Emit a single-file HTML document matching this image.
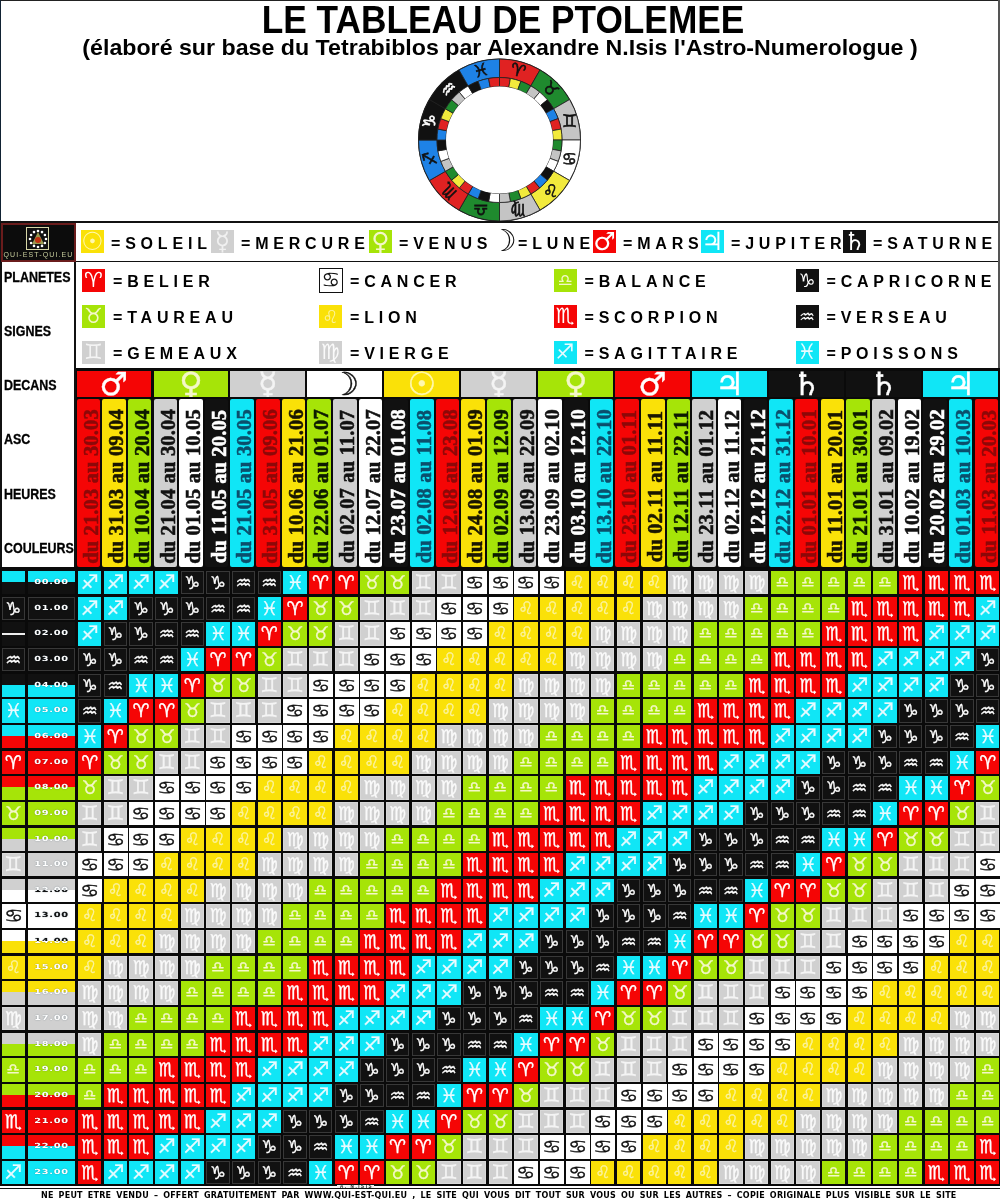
<!DOCTYPE html><html lang="fr"><head><meta charset="utf-8"><title>Le Tableau de Ptolemee</title><style>
html,body{margin:0;padding:0}
body{width:1000px;height:1200px;position:relative;overflow:hidden;background:#fff;font-family:"Liberation Sans",sans-serif;color:#000}
.a{position:absolute}
.t{position:absolute;white-space:nowrap;font-weight:bold}
.z{font-family:"DejaVu Sans",sans-serif;font-weight:normal}
#g{position:absolute;left:0;top:567px;width:1000px;height:619.4px;background:#0a0a0a}
#g i{position:absolute;width:23.4px;height:23.4px;font:normal 19px/23.4px "DejaVu Sans",sans-serif;text-align:center;font-style:normal;overflow:hidden;-webkit-text-stroke:.3px}
#g .ax{background:#f50505;color:#fff}
#g .tx{background:#a6e408;color:#f4f7c8}
#g .gx{background:#d0d0d0;color:#f4f4f4}
#g .nx{background:#ffffff;color:#111}
#g .lx{background:#fae108;color:#fbf3a0}
#g .vx{background:#d0d0d0;color:#fafafa}
#g .bx{background:#a6e408;color:#f4f7c8}
#g .ox{background:#f50505;color:#fff}
#g .sx{background:#10e6f6;color:#e8fbff}
#g .cx{background:#111111;color:#fff}
#g .qx{background:#111111;color:#fff}
#g .px{background:#10e6f6;color:#e8fbff}

.lg{font-size:16px;line-height:18px;letter-spacing:4.8px}
.dt{left:3px;top:0;-webkit-text-stroke:.55px;font-family:"Liberation Serif",serif;font-size:20.5px;letter-spacing:.15px;line-height:23.5px;width:168px;height:23.5px;text-align:center;transform-origin:0 0;transform:rotate(-90deg) translate(-171.5px,0)}
#g .hr{-webkit-text-stroke:0;text-shadow:0 0 1px rgba(0,40,60,.55);font:bold 7px/23px "DejaVu Sans",sans-serif;letter-spacing:.5px;text-align:center}
#g .hr b{display:block;position:relative;font-weight:inherit;transform:scaleX(1.4)}
#g .cx,#g .qx{box-shadow:inset 0 0 0 1px #383838}
#g .gx{font-size:20px;box-shadow:inset 0 0 0 1px #d8d8d8}
#g .vx{box-shadow:inset 0 0 0 1px #d8d8d8}
#g .nx{font-size:18px;width:19.5px;transform-origin:0 0;transform:scaleX(1.2)}
#g .bx{font-size:15px;line-height:22px}
#g .lx{font-size:17px}
#g .sx{font-size:20px}
#g .cx,#g .qx{font-size:18px}
#g .px{font-size:19px}
</style></head><body><div class="a" style="left:0;top:0;width:1000px;height:1px;background:#222"></div><div class="a" style="left:0;top:0;width:1px;height:222px;background:#123"></div><div class="t" id="title" style="left:3px;width:1000px;text-align:center;top:-2px;font-size:38px;line-height:44px;transform:scaleX(.928)">LE TABLEAU DE PTOLEMEE</div><div class="t" id="sub" style="left:0;width:1000px;text-align:center;top:35.8px;font-size:22.3px;line-height:24px;transform:scaleX(1.04)">(élaboré sur base du Tetrabiblos par Alexandre N.Isis l'Astro-Numerologue )</div><svg class="a" style="left:415px;top:56px" width="170" height="170" viewBox="415 56 170 170"><circle cx="499.5" cy="140" r="81.5" fill="#111"/><path d="M499.5 59.0A81 81 0 0 1 540.0 69.9L530.8 85.9A62.5 62.5 0 0 0 499.5 77.5Z" fill="#e02222" stroke="#222" stroke-width="0.8"/><path d="M540.0 69.9A81 81 0 0 1 569.6 99.5L553.6 108.8A62.5 62.5 0 0 0 530.8 85.9Z" fill="#1f8a2e" stroke="#222" stroke-width="0.8"/><path d="M569.6 99.5A81 81 0 0 1 580.5 140.0L562.0 140.0A62.5 62.5 0 0 0 553.6 108.8Z" fill="#c4c4c4" stroke="#222" stroke-width="0.8"/><path d="M580.5 140.0A81 81 0 0 1 569.6 180.5L553.6 171.2A62.5 62.5 0 0 0 562.0 140.0Z" fill="#ffffff" stroke="#222" stroke-width="0.8"/><path d="M569.6 180.5A81 81 0 0 1 540.0 210.1L530.8 194.1A62.5 62.5 0 0 0 553.6 171.2Z" fill="#f2ea3c" stroke="#222" stroke-width="0.8"/><path d="M540.0 210.1A81 81 0 0 1 499.5 221.0L499.5 202.5A62.5 62.5 0 0 0 530.8 194.1Z" fill="#c4c4c4" stroke="#222" stroke-width="0.8"/><path d="M499.5 221.0A81 81 0 0 1 459.0 210.1L468.2 194.1A62.5 62.5 0 0 0 499.5 202.5Z" fill="#1f8a2e" stroke="#222" stroke-width="0.8"/><path d="M459.0 210.1A81 81 0 0 1 429.4 180.5L445.4 171.3A62.5 62.5 0 0 0 468.2 194.1Z" fill="#e02222" stroke="#222" stroke-width="0.8"/><path d="M429.4 180.5A81 81 0 0 1 418.5 140.0L437.0 140.0A62.5 62.5 0 0 0 445.4 171.3Z" fill="#1e82e6" stroke="#222" stroke-width="0.8"/><path d="M418.5 140.0A81 81 0 0 1 429.4 99.5L445.4 108.8A62.5 62.5 0 0 0 437.0 140.0Z" fill="#111" stroke="#222" stroke-width="0.8"/><path d="M429.4 99.5A81 81 0 0 1 459.0 69.9L468.2 85.9A62.5 62.5 0 0 0 445.4 108.8Z" fill="#111" stroke="#222" stroke-width="0.8"/><path d="M459.0 69.9A81 81 0 0 1 499.5 59.0L499.5 77.5A62.5 62.5 0 0 0 468.2 85.9Z" fill="#1e82e6" stroke="#222" stroke-width="0.8"/><path d="M499.5 77.5A62.5 62.5 0 0 1 510.4 78.4L508.8 87.3A53.5 53.5 0 0 0 499.5 86.5Z" fill="#e02222" stroke="#222" stroke-width="0.8"/><path d="M510.4 78.4A62.5 62.5 0 0 1 520.9 81.3L517.8 89.7A53.5 53.5 0 0 0 508.8 87.3Z" fill="#f2ea3c" stroke="#222" stroke-width="0.8"/><path d="M520.9 81.3A62.5 62.5 0 0 1 530.8 85.9L526.2 93.7A53.5 53.5 0 0 0 517.8 89.7Z" fill="#1f8a2e" stroke="#222" stroke-width="0.8"/><path d="M530.8 85.9A62.5 62.5 0 0 1 539.7 92.1L533.9 99.0A53.5 53.5 0 0 0 526.2 93.7Z" fill="#c4c4c4" stroke="#222" stroke-width="0.8"/><path d="M539.7 92.1A62.5 62.5 0 0 1 547.4 99.8L540.5 105.6A53.5 53.5 0 0 0 533.9 99.0Z" fill="#ffffff" stroke="#222" stroke-width="0.8"/><path d="M547.4 99.8A62.5 62.5 0 0 1 553.6 108.8L545.8 113.2A53.5 53.5 0 0 0 540.5 105.6Z" fill="#111" stroke="#222" stroke-width="0.8"/><path d="M553.6 108.8A62.5 62.5 0 0 1 558.2 118.6L549.8 121.7A53.5 53.5 0 0 0 545.8 113.2Z" fill="#1e82e6" stroke="#222" stroke-width="0.8"/><path d="M558.2 118.6A62.5 62.5 0 0 1 561.1 129.1L552.2 130.7A53.5 53.5 0 0 0 549.8 121.7Z" fill="#e02222" stroke="#222" stroke-width="0.8"/><path d="M561.1 129.1A62.5 62.5 0 0 1 562.0 140.0L553.0 140.0A53.5 53.5 0 0 0 552.2 130.7Z" fill="#f2ea3c" stroke="#222" stroke-width="0.8"/><path d="M562.0 140.0A62.5 62.5 0 0 1 561.1 150.9L552.2 149.3A53.5 53.5 0 0 0 553.0 140.0Z" fill="#1f8a2e" stroke="#222" stroke-width="0.8"/><path d="M561.1 150.9A62.5 62.5 0 0 1 558.2 161.4L549.8 158.3A53.5 53.5 0 0 0 552.2 149.3Z" fill="#c4c4c4" stroke="#222" stroke-width="0.8"/><path d="M558.2 161.4A62.5 62.5 0 0 1 553.6 171.2L545.8 166.8A53.5 53.5 0 0 0 549.8 158.3Z" fill="#ffffff" stroke="#222" stroke-width="0.8"/><path d="M553.6 171.2A62.5 62.5 0 0 1 547.4 180.2L540.5 174.4A53.5 53.5 0 0 0 545.8 166.8Z" fill="#111" stroke="#222" stroke-width="0.8"/><path d="M547.4 180.2A62.5 62.5 0 0 1 539.7 187.9L533.9 181.0A53.5 53.5 0 0 0 540.5 174.4Z" fill="#1e82e6" stroke="#222" stroke-width="0.8"/><path d="M539.7 187.9A62.5 62.5 0 0 1 530.8 194.1L526.2 186.3A53.5 53.5 0 0 0 533.9 181.0Z" fill="#e02222" stroke="#222" stroke-width="0.8"/><path d="M530.8 194.1A62.5 62.5 0 0 1 520.9 198.7L517.8 190.3A53.5 53.5 0 0 0 526.2 186.3Z" fill="#f2ea3c" stroke="#222" stroke-width="0.8"/><path d="M520.9 198.7A62.5 62.5 0 0 1 510.4 201.6L508.8 192.7A53.5 53.5 0 0 0 517.8 190.3Z" fill="#1f8a2e" stroke="#222" stroke-width="0.8"/><path d="M510.4 201.6A62.5 62.5 0 0 1 499.5 202.5L499.5 193.5A53.5 53.5 0 0 0 508.8 192.7Z" fill="#c4c4c4" stroke="#222" stroke-width="0.8"/><path d="M499.5 202.5A62.5 62.5 0 0 1 488.6 201.6L490.2 192.7A53.5 53.5 0 0 0 499.5 193.5Z" fill="#ffffff" stroke="#222" stroke-width="0.8"/><path d="M488.6 201.6A62.5 62.5 0 0 1 478.1 198.7L481.2 190.3A53.5 53.5 0 0 0 490.2 192.7Z" fill="#111" stroke="#222" stroke-width="0.8"/><path d="M478.1 198.7A62.5 62.5 0 0 1 468.2 194.1L472.8 186.3A53.5 53.5 0 0 0 481.2 190.3Z" fill="#1e82e6" stroke="#222" stroke-width="0.8"/><path d="M468.2 194.1A62.5 62.5 0 0 1 459.3 187.9L465.1 181.0A53.5 53.5 0 0 0 472.8 186.3Z" fill="#e02222" stroke="#222" stroke-width="0.8"/><path d="M459.3 187.9A62.5 62.5 0 0 1 451.6 180.2L458.5 174.4A53.5 53.5 0 0 0 465.1 181.0Z" fill="#f2ea3c" stroke="#222" stroke-width="0.8"/><path d="M451.6 180.2A62.5 62.5 0 0 1 445.4 171.3L453.2 166.8A53.5 53.5 0 0 0 458.5 174.4Z" fill="#1f8a2e" stroke="#222" stroke-width="0.8"/><path d="M445.4 171.3A62.5 62.5 0 0 1 440.8 161.4L449.2 158.3A53.5 53.5 0 0 0 453.2 166.8Z" fill="#c4c4c4" stroke="#222" stroke-width="0.8"/><path d="M440.8 161.4A62.5 62.5 0 0 1 437.9 150.9L446.8 149.3A53.5 53.5 0 0 0 449.2 158.3Z" fill="#ffffff" stroke="#222" stroke-width="0.8"/><path d="M437.9 150.9A62.5 62.5 0 0 1 437.0 140.0L446.0 140.0A53.5 53.5 0 0 0 446.8 149.3Z" fill="#111" stroke="#222" stroke-width="0.8"/><path d="M437.0 140.0A62.5 62.5 0 0 1 437.9 129.1L446.8 130.7A53.5 53.5 0 0 0 446.0 140.0Z" fill="#1e82e6" stroke="#222" stroke-width="0.8"/><path d="M437.9 129.1A62.5 62.5 0 0 1 440.8 118.6L449.2 121.7A53.5 53.5 0 0 0 446.8 130.7Z" fill="#e02222" stroke="#222" stroke-width="0.8"/><path d="M440.8 118.6A62.5 62.5 0 0 1 445.4 108.8L453.2 113.2A53.5 53.5 0 0 0 449.2 121.7Z" fill="#f2ea3c" stroke="#222" stroke-width="0.8"/><path d="M445.4 108.8A62.5 62.5 0 0 1 451.6 99.8L458.5 105.6A53.5 53.5 0 0 0 453.2 113.2Z" fill="#1f8a2e" stroke="#222" stroke-width="0.8"/><path d="M451.6 99.8A62.5 62.5 0 0 1 459.3 92.1L465.1 99.0A53.5 53.5 0 0 0 458.5 105.6Z" fill="#c4c4c4" stroke="#222" stroke-width="0.8"/><path d="M459.3 92.1A62.5 62.5 0 0 1 468.2 85.9L472.8 93.7A53.5 53.5 0 0 0 465.1 99.0Z" fill="#ffffff" stroke="#222" stroke-width="0.8"/><path d="M468.2 85.9A62.5 62.5 0 0 1 478.1 81.3L481.2 89.7A53.5 53.5 0 0 0 472.8 93.7Z" fill="#111" stroke="#222" stroke-width="0.8"/><path d="M478.1 81.3A62.5 62.5 0 0 1 488.6 78.4L490.2 87.3A53.5 53.5 0 0 0 481.2 89.7Z" fill="#1e82e6" stroke="#222" stroke-width="0.8"/><path d="M488.6 78.4A62.5 62.5 0 0 1 499.5 77.5L499.5 86.5A53.5 53.5 0 0 0 490.2 87.3Z" fill="#e02222" stroke="#222" stroke-width="0.8"/><circle cx="499.5" cy="140" r="53.5" fill="#fff"/><text x="518.2" y="70.2" font-family="DejaVu Sans" font-size="17" stroke-width=".6" text-anchor="middle" fill="#111" transform="rotate(15 518.2 70.2)" dy="6" stroke="#111">♈︎</text><text x="550.6" y="88.9" font-family="DejaVu Sans" font-size="17" stroke-width=".6" text-anchor="middle" fill="#111" transform="rotate(45 550.6 88.9)" dy="6" stroke="#111">♉︎</text><text x="569.3" y="121.3" font-family="DejaVu Sans" font-size="17" stroke-width=".6" text-anchor="middle" fill="#111" transform="rotate(0 569.3 121.3)" dy="6" stroke="#111">♊︎</text><text x="569.3" y="158.7" font-family="DejaVu Sans" font-size="17" stroke-width=".6" text-anchor="middle" fill="#111" transform="rotate(0 569.3 158.7)" dy="6" stroke="#111">♋︎</text><text x="550.6" y="191.1" font-family="DejaVu Sans" font-size="17" stroke-width=".6" text-anchor="middle" fill="#111" transform="rotate(0 550.6 191.1)" dy="6" stroke="#111">♌︎</text><text x="518.2" y="209.8" font-family="DejaVu Sans" font-size="17" stroke-width=".6" text-anchor="middle" fill="#111" transform="rotate(180 518.2 209.8)" dy="6" stroke="#111">♍︎</text><text x="480.8" y="209.8" font-family="DejaVu Sans" font-size="17" stroke-width=".6" text-anchor="middle" fill="#111" transform="rotate(180 480.8 209.8)" dy="6" stroke="#111">♎︎</text><text x="448.4" y="191.1" font-family="DejaVu Sans" font-size="17" stroke-width=".6" text-anchor="middle" fill="#111" transform="rotate(225 448.4 191.1)" dy="6" stroke="#111">♏︎</text><text x="429.7" y="158.7" font-family="DejaVu Sans" font-size="17" stroke-width=".6" text-anchor="middle" fill="#111" transform="rotate(255 429.7 158.7)" dy="6" stroke="#111">♐︎</text><text x="429.7" y="121.3" font-family="DejaVu Sans" font-size="17" stroke-width=".6" text-anchor="middle" fill="#fff" transform="rotate(285 429.7 121.3)" dy="6" stroke="#fff">♑︎</text><text x="448.4" y="88.9" font-family="DejaVu Sans" font-size="17" stroke-width=".6" text-anchor="middle" fill="#fff" transform="rotate(315 448.4 88.9)" dy="6" stroke="#fff">♒︎</text><text x="480.8" y="70.2" font-family="DejaVu Sans" font-size="17" stroke-width=".6" text-anchor="middle" fill="#111" transform="rotate(345 480.8 70.2)" dy="6" stroke="#111">♓︎</text></svg><div class="a" style="left:0;top:221.4px;width:1000px;height:1.4px;background:#111"></div><div class="a" style="left:74px;top:222px;width:2px;height:346px;background:#111"></div><div class="a" style="left:76px;top:261px;width:924px;height:1.4px;background:#111"></div><div class="a" style="left:0;top:222px;width:2px;height:978px;background:#111"></div><div class="a" style="left:998.4px;top:0;width:1.6px;height:369px;background:#555"></div><div class="a" style="left:1px;top:223px;width:71px;height:35px;background:#0c0c0c;border:2px solid #6a1c1c"></div><div class="a" style="left:26px;top:227px;width:21px;height:21px;border:1.5px solid #d8d8a8;background:#111"></div><svg class="a" style="left:26px;top:227px" width="24" height="24" viewBox="0 0 24 24"><g fill="#fff"><circle cx="12.0" cy="4.0" r="1.3"/><circle cx="16.0" cy="5.1" r="1.3"/><circle cx="18.9" cy="8.0" r="1.3"/><circle cx="20.0" cy="12.0" r="1.3"/><circle cx="18.9" cy="16.0" r="1.3"/><circle cx="16.0" cy="18.9" r="1.3"/><circle cx="12.0" cy="20.0" r="1.3"/><circle cx="8.0" cy="18.9" r="1.3"/><circle cx="5.1" cy="16.0" r="1.3"/><circle cx="4.0" cy="12.0" r="1.3"/><circle cx="5.1" cy="8.0" r="1.3"/><circle cx="8.0" cy="5.1" r="1.3"/></g><path d="M12 5L18 17H6Z" fill="#9a9a50"/><circle cx="12" cy="13" r="3" fill="#c03010"/></svg><div class="t" style="left:3px;top:251px;width:71px;text-align:center;font-size:7px;line-height:8px;letter-spacing:1.1px;color:#c6cc9c;font-weight:normal">QUI-EST-QUI.EU</div><div class="t lab" style="left:3.5px;top:269px;font-size:14px;line-height:16px;transform-origin:0 50%;transform:scaleX(.89);-webkit-text-stroke:.3px #000">PLANETES</div><div class="t lab" style="left:3.5px;top:323px;font-size:14px;line-height:16px;transform-origin:0 50%;transform:scaleX(.89);-webkit-text-stroke:.3px #000">SIGNES</div><div class="t lab" style="left:3.5px;top:377px;font-size:14px;line-height:16px;transform-origin:0 50%;transform:scaleX(.89);-webkit-text-stroke:.3px #000">DECANS</div><div class="t lab" style="left:3.5px;top:431px;font-size:14px;line-height:16px;transform-origin:0 50%;transform:scaleX(.89);-webkit-text-stroke:.3px #000">ASC</div><div class="t lab" style="left:3.5px;top:486px;font-size:14px;line-height:16px;transform-origin:0 50%;transform:scaleX(.89);-webkit-text-stroke:.3px #000">HEURES</div><div class="t lab" style="left:3.5px;top:540px;font-size:14px;line-height:16px;transform-origin:0 50%;transform:scaleX(.89);-webkit-text-stroke:.3px #000">COULEURS</div><div class="a z" style="left:81px;top:230px;width:23px;height:23px;background:#fae108;color:#fff8b0;font-size:25px;line-height:23px;text-align:center;font-weight:bold;overflow:hidden">☉</div><div class="t lg pl" style="left:111px;top:234.5px">=SOLEIL</div><div class="a z" style="left:211px;top:230px;width:23px;height:23px;background:#d0d0d0;color:#f0f0f0;font-size:25px;line-height:23px;text-align:center;font-weight:bold;overflow:hidden">☿</div><div class="t lg pl" style="left:241px;top:234.5px">=MERCURE</div><div class="a z" style="left:369px;top:230px;width:23px;height:23px;background:#a6e408;color:#f4f7c8;font-size:25px;line-height:23px;text-align:center;font-weight:bold;overflow:hidden">♀</div><div class="t lg pl" style="left:399px;top:234.5px">=VENUS</div><div class="a z" style="left:490px;top:230px;width:23px;height:23px;background:#ffffff;color:#111;font-size:30px;line-height:21px;text-align:center;font-weight:bold;overflow:visible">☽</div><div class="t lg pl" style="left:518px;top:234.5px">=LUNE</div><div class="a z" style="left:593px;top:230px;width:23px;height:23px;background:#f50505;color:#fff;font-size:25px;line-height:23px;text-align:center;font-weight:bold;overflow:hidden">♂</div><div class="t lg pl" style="left:623px;top:234.5px">=MARS</div><div class="a z" style="left:701px;top:230px;width:23px;height:23px;background:#10e6f6;color:#fff;font-size:25px;line-height:23px;text-align:center;font-weight:bold;overflow:hidden">♃</div><div class="t lg pl" style="left:731px;top:234.5px">=JUPITER</div><div class="a z" style="left:843px;top:230px;width:23px;height:23px;background:#111111;color:#fff;font-size:25px;line-height:23px;text-align:center;font-weight:bold;overflow:hidden">♄</div><div class="t lg pl" style="left:873px;top:234.5px">=SATURNE</div><div class="a z" style="left:82px;top:269px;width:23px;height:23px;background:#f50505;color:#fff;font-size:21px;line-height:23px;text-align:center;overflow:hidden">♈︎</div><div class="t lg" style="left:113px;top:273px">=BELIER</div><div class="a z" style="left:82px;top:305px;width:23px;height:23px;background:#a6e408;color:#f4f7c8;font-size:21px;line-height:23px;text-align:center;overflow:hidden">♉︎</div><div class="t lg" style="left:113px;top:309px">=TAUREAU</div><div class="a z" style="left:82px;top:341px;width:23px;height:23px;background:#d0d0d0;color:#f4f4f4;font-size:21px;line-height:23px;text-align:center;overflow:hidden">♊︎</div><div class="t lg" style="left:113px;top:345px">=GEMEAUX</div><div class="a z" style="left:319px;top:269px;width:23px;height:23px;box-sizing:border-box;border:1.5px solid #111;margin:-1px 0 0 -.5px;width:24.5px;height:24.5px;background:#ffffff;color:#111;font-size:21px;line-height:22px;text-align:center;overflow:hidden">♋︎</div><div class="t lg" style="left:350px;top:273px">=CANCER</div><div class="a z" style="left:319px;top:305px;width:23px;height:23px;background:#fae108;color:#fbf3a0;font-size:18px;line-height:23px;text-align:center;overflow:hidden">♌︎</div><div class="t lg" style="left:350px;top:309px">=LION</div><div class="a z" style="left:319px;top:341px;width:23px;height:23px;background:#d0d0d0;color:#fafafa;font-size:21px;line-height:23px;text-align:center;overflow:hidden">♍︎</div><div class="t lg" style="left:350px;top:345px">=VIERGE</div><div class="a z" style="left:553.5px;top:269px;width:23px;height:23px;background:#a6e408;color:#f4f7c8;font-size:17px;line-height:23px;text-align:center;overflow:hidden">♎︎</div><div class="t lg" style="left:584.5px;top:273px">=BALANCE</div><div class="a z" style="left:553.5px;top:305px;width:23px;height:23px;background:#f50505;color:#fff;font-size:21px;line-height:23px;text-align:center;overflow:hidden">♏︎</div><div class="t lg" style="left:584.5px;top:309px">=SCORPION</div><div class="a z" style="left:553.5px;top:341px;width:23px;height:23px;background:#10e6f6;color:#e8fbff;font-size:21px;line-height:23px;text-align:center;overflow:hidden">♐︎</div><div class="t lg" style="left:584.5px;top:345px">=SAGITTAIRE</div><div class="a z" style="left:795.5px;top:269px;width:23px;height:23px;background:#111111;color:#fff;font-size:19px;line-height:23px;text-align:center;overflow:hidden">♑︎</div><div class="t lg" style="left:826.5px;top:273px">=CAPRICORNE</div><div class="a z" style="left:795.5px;top:305px;width:23px;height:23px;background:#111111;color:#fff;font-size:18px;line-height:23px;text-align:center;overflow:hidden">♒︎</div><div class="t lg" style="left:826.5px;top:309px">=VERSEAU</div><div class="a z" style="left:795.5px;top:341px;width:23px;height:23px;background:#10e6f6;color:#e8fbff;font-size:21px;line-height:23px;text-align:center;overflow:hidden">♓︎</div><div class="t lg" style="left:826.5px;top:345px">=POISSONS</div><div class="a" style="left:76px;top:368px;width:924px;height:200px;background:#0a0a0a"></div><div class="a z" style="left:76.5px;top:371px;width:74.8px;height:26px;background:#f50505;color:#fff;font-size:32px;line-height:27px;text-align:center;font-weight:bold;overflow:hidden;-webkit-text-stroke:.4px">♂</div><div class="a z" style="left:153.5px;top:371px;width:74.8px;height:26px;background:#a6e408;color:#f4f7c8;font-size:32px;line-height:27px;text-align:center;font-weight:bold;overflow:hidden;-webkit-text-stroke:.4px">♀</div><div class="a z" style="left:230.4px;top:371px;width:74.8px;height:26px;background:#d0d0d0;color:#f4f4f4;font-size:32px;line-height:27px;text-align:center;font-weight:bold;overflow:hidden;-webkit-text-stroke:.4px">☿</div><div class="a z" style="left:307.4px;top:371px;width:74.8px;height:26px;background:#ffffff;color:#111;font-size:32px;line-height:27px;text-align:center;font-weight:bold;overflow:hidden;-webkit-text-stroke:.4px">☽</div><div class="a z" style="left:384.4px;top:371px;width:74.8px;height:26px;background:#fae108;color:#fff8b0;font-size:32px;line-height:27px;text-align:center;font-weight:bold;overflow:hidden;-webkit-text-stroke:.4px">☉</div><div class="a z" style="left:461.4px;top:371px;width:74.8px;height:26px;background:#d0d0d0;color:#f4f4f4;font-size:32px;line-height:27px;text-align:center;font-weight:bold;overflow:hidden;-webkit-text-stroke:.4px">☿</div><div class="a z" style="left:538.3px;top:371px;width:74.8px;height:26px;background:#a6e408;color:#f4f7c8;font-size:32px;line-height:27px;text-align:center;font-weight:bold;overflow:hidden;-webkit-text-stroke:.4px">♀</div><div class="a z" style="left:615.3px;top:371px;width:74.8px;height:26px;background:#f50505;color:#fff;font-size:32px;line-height:27px;text-align:center;font-weight:bold;overflow:hidden;-webkit-text-stroke:.4px">♂</div><div class="a z" style="left:692.3px;top:371px;width:74.8px;height:26px;background:#10e6f6;color:#fff;font-size:32px;line-height:27px;text-align:center;font-weight:bold;overflow:hidden;-webkit-text-stroke:.4px">♃</div><div class="a z" style="left:769.2px;top:371px;width:74.8px;height:26px;background:#111111;color:#fff;font-size:32px;line-height:27px;text-align:center;font-weight:bold;overflow:hidden;-webkit-text-stroke:.4px">♄</div><div class="a z" style="left:846.2px;top:371px;width:74.8px;height:26px;background:#111111;color:#fff;font-size:32px;line-height:27px;text-align:center;font-weight:bold;overflow:hidden;-webkit-text-stroke:.4px">♄</div><div class="a z" style="left:923.2px;top:371px;width:74.8px;height:26px;background:#10e6f6;color:#fff;font-size:32px;line-height:27px;text-align:center;font-weight:bold;overflow:hidden;-webkit-text-stroke:.4px">♃</div><div class="a" style="left:76.5px;top:399px;width:23.5px;height:168px;background:#f50505;border-radius:2px"><div class="t dt" style="color:#8c0808">du 21.03 au 30.03</div></div><div class="a" style="left:102.2px;top:399px;width:23.5px;height:168px;background:#fae108;border-radius:2px"><div class="t dt" style="color:#1a1600">du 31.03 au 09.04</div></div><div class="a" style="left:127.8px;top:399px;width:23.5px;height:168px;background:#a6e408;border-radius:2px"><div class="t dt" style="color:#0c1a00">du 10.04 au 20.04</div></div><div class="a" style="left:153.5px;top:399px;width:23.5px;height:168px;background:#d0d0d0;border-radius:2px"><div class="t dt" style="color:#111">du 21.04 au 30.04</div></div><div class="a" style="left:179.1px;top:399px;width:23.5px;height:168px;background:#ffffff;border-radius:2px"><div class="t dt" style="color:#111">du 01.05 au 10.05</div></div><div class="a" style="left:204.8px;top:399px;width:23.5px;height:168px;background:#111111;border-radius:2px"><div class="t dt" style="color:#fff">du 11.05 au 20.05</div></div><div class="a" style="left:230.4px;top:399px;width:23.5px;height:168px;background:#10e6f6;border-radius:2px"><div class="t dt" style="color:#0b4f6c">du 21.05 au 30.05</div></div><div class="a" style="left:256.1px;top:399px;width:23.5px;height:168px;background:#f50505;border-radius:2px"><div class="t dt" style="color:#8c0808">du 31.05 au 09.06</div></div><div class="a" style="left:281.8px;top:399px;width:23.5px;height:168px;background:#fae108;border-radius:2px"><div class="t dt" style="color:#1a1600">du 10.06 au 21.06</div></div><div class="a" style="left:307.4px;top:399px;width:23.5px;height:168px;background:#a6e408;border-radius:2px"><div class="t dt" style="color:#0c1a00">du 22.06 au 01.07</div></div><div class="a" style="left:333.1px;top:399px;width:23.5px;height:168px;background:#d0d0d0;border-radius:2px"><div class="t dt" style="color:#111">du 02.07 au 11.07</div></div><div class="a" style="left:358.7px;top:399px;width:23.5px;height:168px;background:#ffffff;border-radius:2px"><div class="t dt" style="color:#111">du 12.07 au 22.07</div></div><div class="a" style="left:384.4px;top:399px;width:23.5px;height:168px;background:#111111;border-radius:2px"><div class="t dt" style="color:#fff">du 23.07 au 01.08</div></div><div class="a" style="left:410.0px;top:399px;width:23.5px;height:168px;background:#10e6f6;border-radius:2px"><div class="t dt" style="color:#0b4f6c">du 02.08 au 11.08</div></div><div class="a" style="left:435.7px;top:399px;width:23.5px;height:168px;background:#f50505;border-radius:2px"><div class="t dt" style="color:#8c0808">du 12.08 au 23.08</div></div><div class="a" style="left:461.4px;top:399px;width:23.5px;height:168px;background:#fae108;border-radius:2px"><div class="t dt" style="color:#1a1600">du 24.08 au 01.09</div></div><div class="a" style="left:487.0px;top:399px;width:23.5px;height:168px;background:#a6e408;border-radius:2px"><div class="t dt" style="color:#0c1a00">du 02.09 au 12.09</div></div><div class="a" style="left:512.7px;top:399px;width:23.5px;height:168px;background:#d0d0d0;border-radius:2px"><div class="t dt" style="color:#111">du 13.09 au 22.09</div></div><div class="a" style="left:538.3px;top:399px;width:23.5px;height:168px;background:#ffffff;border-radius:2px"><div class="t dt" style="color:#111">du 23.09 au 02.10</div></div><div class="a" style="left:564.0px;top:399px;width:23.5px;height:168px;background:#111111;border-radius:2px"><div class="t dt" style="color:#fff">du 03.10 au 12.10</div></div><div class="a" style="left:589.6px;top:399px;width:23.5px;height:168px;background:#10e6f6;border-radius:2px"><div class="t dt" style="color:#0b4f6c">du 13.10 au 22.10</div></div><div class="a" style="left:615.3px;top:399px;width:23.5px;height:168px;background:#f50505;border-radius:2px"><div class="t dt" style="color:#8c0808">du 23.10 au 01.11</div></div><div class="a" style="left:641.0px;top:399px;width:23.5px;height:168px;background:#fae108;border-radius:2px"><div class="t dt" style="color:#1a1600">du 02.11 au 11.11</div></div><div class="a" style="left:666.6px;top:399px;width:23.5px;height:168px;background:#a6e408;border-radius:2px"><div class="t dt" style="color:#0c1a00">du 12.11 au 22.11</div></div><div class="a" style="left:692.3px;top:399px;width:23.5px;height:168px;background:#d0d0d0;border-radius:2px"><div class="t dt" style="color:#111">du 23.11 au 01.12</div></div><div class="a" style="left:717.9px;top:399px;width:23.5px;height:168px;background:#ffffff;border-radius:2px"><div class="t dt" style="color:#111">du 02.12 au 11.12</div></div><div class="a" style="left:743.6px;top:399px;width:23.5px;height:168px;background:#111111;border-radius:2px"><div class="t dt" style="color:#fff">du 12.12 au 21.12</div></div><div class="a" style="left:769.2px;top:399px;width:23.5px;height:168px;background:#10e6f6;border-radius:2px"><div class="t dt" style="color:#0b4f6c">du 22.12 au 31.12</div></div><div class="a" style="left:794.9px;top:399px;width:23.5px;height:168px;background:#f50505;border-radius:2px"><div class="t dt" style="color:#8c0808">du 01.01 au 10.01</div></div><div class="a" style="left:820.6px;top:399px;width:23.5px;height:168px;background:#fae108;border-radius:2px"><div class="t dt" style="color:#1a1600">du 11.01 au 20.01</div></div><div class="a" style="left:846.2px;top:399px;width:23.5px;height:168px;background:#a6e408;border-radius:2px"><div class="t dt" style="color:#0c1a00">du 21.01 au 30.01</div></div><div class="a" style="left:871.9px;top:399px;width:23.5px;height:168px;background:#d0d0d0;border-radius:2px"><div class="t dt" style="color:#111">du 31.01 au 09.02</div></div><div class="a" style="left:897.5px;top:399px;width:23.5px;height:168px;background:#ffffff;border-radius:2px"><div class="t dt" style="color:#111">du 10.02 au 19.02</div></div><div class="a" style="left:923.2px;top:399px;width:23.5px;height:168px;background:#111111;border-radius:2px"><div class="t dt" style="color:#fff">du 20.02 au 29.02</div></div><div class="a" style="left:948.8px;top:399px;width:23.5px;height:168px;background:#10e6f6;border-radius:2px"><div class="t dt" style="color:#0b4f6c">du 01.03 au 10.03</div></div><div class="a" style="left:974.5px;top:399px;width:23.5px;height:168px;background:#f50505;border-radius:2px"><div class="t dt" style="color:#8c0808">du 11.03 au 20.03</div></div><div id="g"><i class="sx" style="left:78.0px;top:4.0px">♐︎</i><i class="sx" style="left:103.7px;top:4.0px">♐︎</i><i class="sx" style="left:129.3px;top:4.0px">♐︎</i><i class="sx" style="left:155.0px;top:4.0px">♐︎</i><i class="cx" style="left:180.6px;top:4.0px">♑︎</i><i class="cx" style="left:206.3px;top:4.0px">♑︎</i><i class="qx" style="left:231.9px;top:4.0px">♒︎</i><i class="qx" style="left:257.6px;top:4.0px">♒︎</i><i class="px" style="left:283.3px;top:4.0px">♓︎</i><i class="ax" style="left:308.9px;top:4.0px">♈︎</i><i class="ax" style="left:334.6px;top:4.0px">♈︎</i><i class="tx" style="left:360.2px;top:4.0px">♉︎</i><i class="tx" style="left:385.9px;top:4.0px">♉︎</i><i class="gx" style="left:411.5px;top:4.0px">♊︎</i><i class="gx" style="left:437.2px;top:4.0px">♊︎</i><i class="nx" style="left:462.9px;top:4.0px">♋︎</i><i class="nx" style="left:488.5px;top:4.0px">♋︎</i><i class="nx" style="left:514.2px;top:4.0px">♋︎</i><i class="nx" style="left:539.8px;top:4.0px">♋︎</i><i class="lx" style="left:565.5px;top:4.0px">♌︎</i><i class="lx" style="left:591.1px;top:4.0px">♌︎</i><i class="lx" style="left:616.8px;top:4.0px">♌︎</i><i class="lx" style="left:642.5px;top:4.0px">♌︎</i><i class="vx" style="left:668.1px;top:4.0px">♍︎</i><i class="vx" style="left:693.8px;top:4.0px">♍︎</i><i class="vx" style="left:719.4px;top:4.0px">♍︎</i><i class="vx" style="left:745.1px;top:4.0px">♍︎</i><i class="bx" style="left:770.7px;top:4.0px">♎︎</i><i class="bx" style="left:796.4px;top:4.0px">♎︎</i><i class="bx" style="left:822.1px;top:4.0px">♎︎</i><i class="bx" style="left:847.7px;top:4.0px">♎︎</i><i class="bx" style="left:873.4px;top:4.0px">♎︎</i><i class="ox" style="left:899.0px;top:4.0px">♏︎</i><i class="ox" style="left:924.7px;top:4.0px">♏︎</i><i class="ox" style="left:950.3px;top:4.0px">♏︎</i><i class="ox" style="left:976.0px;top:4.0px">♏︎</i><i class="sx" style="left:78.0px;top:29.6px">♐︎</i><i class="sx" style="left:103.7px;top:29.6px">♐︎</i><i class="cx" style="left:129.3px;top:29.6px">♑︎</i><i class="cx" style="left:155.0px;top:29.6px">♑︎</i><i class="cx" style="left:180.6px;top:29.6px">♑︎</i><i class="qx" style="left:206.3px;top:29.6px">♒︎</i><i class="qx" style="left:231.9px;top:29.6px">♒︎</i><i class="px" style="left:257.6px;top:29.6px">♓︎</i><i class="ax" style="left:283.3px;top:29.6px">♈︎</i><i class="tx" style="left:308.9px;top:29.6px">♉︎</i><i class="tx" style="left:334.6px;top:29.6px">♉︎</i><i class="gx" style="left:360.2px;top:29.6px">♊︎</i><i class="gx" style="left:385.9px;top:29.6px">♊︎</i><i class="gx" style="left:411.5px;top:29.6px">♊︎</i><i class="nx" style="left:437.2px;top:29.6px">♋︎</i><i class="nx" style="left:462.9px;top:29.6px">♋︎</i><i class="nx" style="left:488.5px;top:29.6px">♋︎</i><i class="lx" style="left:514.2px;top:29.6px">♌︎</i><i class="lx" style="left:539.8px;top:29.6px">♌︎</i><i class="lx" style="left:565.5px;top:29.6px">♌︎</i><i class="lx" style="left:591.1px;top:29.6px">♌︎</i><i class="lx" style="left:616.8px;top:29.6px">♌︎</i><i class="vx" style="left:642.5px;top:29.6px">♍︎</i><i class="vx" style="left:668.1px;top:29.6px">♍︎</i><i class="vx" style="left:693.8px;top:29.6px">♍︎</i><i class="vx" style="left:719.4px;top:29.6px">♍︎</i><i class="bx" style="left:745.1px;top:29.6px">♎︎</i><i class="bx" style="left:770.7px;top:29.6px">♎︎</i><i class="bx" style="left:796.4px;top:29.6px">♎︎</i><i class="bx" style="left:822.1px;top:29.6px">♎︎</i><i class="ox" style="left:847.7px;top:29.6px">♏︎</i><i class="ox" style="left:873.4px;top:29.6px">♏︎</i><i class="ox" style="left:899.0px;top:29.6px">♏︎</i><i class="ox" style="left:924.7px;top:29.6px">♏︎</i><i class="ox" style="left:950.3px;top:29.6px">♏︎</i><i class="sx" style="left:976.0px;top:29.6px">♐︎</i><i class="sx" style="left:78.0px;top:55.3px">♐︎</i><i class="cx" style="left:103.7px;top:55.3px">♑︎</i><i class="cx" style="left:129.3px;top:55.3px">♑︎</i><i class="qx" style="left:155.0px;top:55.3px">♒︎</i><i class="qx" style="left:180.6px;top:55.3px">♒︎</i><i class="px" style="left:206.3px;top:55.3px">♓︎</i><i class="px" style="left:231.9px;top:55.3px">♓︎</i><i class="ax" style="left:257.6px;top:55.3px">♈︎</i><i class="tx" style="left:283.3px;top:55.3px">♉︎</i><i class="tx" style="left:308.9px;top:55.3px">♉︎</i><i class="gx" style="left:334.6px;top:55.3px">♊︎</i><i class="gx" style="left:360.2px;top:55.3px">♊︎</i><i class="nx" style="left:385.9px;top:55.3px">♋︎</i><i class="nx" style="left:411.5px;top:55.3px">♋︎</i><i class="nx" style="left:437.2px;top:55.3px">♋︎</i><i class="nx" style="left:462.9px;top:55.3px">♋︎</i><i class="lx" style="left:488.5px;top:55.3px">♌︎</i><i class="lx" style="left:514.2px;top:55.3px">♌︎</i><i class="lx" style="left:539.8px;top:55.3px">♌︎</i><i class="lx" style="left:565.5px;top:55.3px">♌︎</i><i class="vx" style="left:591.1px;top:55.3px">♍︎</i><i class="vx" style="left:616.8px;top:55.3px">♍︎</i><i class="vx" style="left:642.5px;top:55.3px">♍︎</i><i class="vx" style="left:668.1px;top:55.3px">♍︎</i><i class="bx" style="left:693.8px;top:55.3px">♎︎</i><i class="bx" style="left:719.4px;top:55.3px">♎︎</i><i class="bx" style="left:745.1px;top:55.3px">♎︎</i><i class="bx" style="left:770.7px;top:55.3px">♎︎</i><i class="bx" style="left:796.4px;top:55.3px">♎︎</i><i class="ox" style="left:822.1px;top:55.3px">♏︎</i><i class="ox" style="left:847.7px;top:55.3px">♏︎</i><i class="ox" style="left:873.4px;top:55.3px">♏︎</i><i class="ox" style="left:899.0px;top:55.3px">♏︎</i><i class="sx" style="left:924.7px;top:55.3px">♐︎</i><i class="sx" style="left:950.3px;top:55.3px">♐︎</i><i class="sx" style="left:976.0px;top:55.3px">♐︎</i><i class="cx" style="left:78.0px;top:80.9px">♑︎</i><i class="cx" style="left:103.7px;top:80.9px">♑︎</i><i class="qx" style="left:129.3px;top:80.9px">♒︎</i><i class="qx" style="left:155.0px;top:80.9px">♒︎</i><i class="px" style="left:180.6px;top:80.9px">♓︎</i><i class="ax" style="left:206.3px;top:80.9px">♈︎</i><i class="ax" style="left:231.9px;top:80.9px">♈︎</i><i class="tx" style="left:257.6px;top:80.9px">♉︎</i><i class="gx" style="left:283.3px;top:80.9px">♊︎</i><i class="gx" style="left:308.9px;top:80.9px">♊︎</i><i class="gx" style="left:334.6px;top:80.9px">♊︎</i><i class="nx" style="left:360.2px;top:80.9px">♋︎</i><i class="nx" style="left:385.9px;top:80.9px">♋︎</i><i class="nx" style="left:411.5px;top:80.9px">♋︎</i><i class="lx" style="left:437.2px;top:80.9px">♌︎</i><i class="lx" style="left:462.9px;top:80.9px">♌︎</i><i class="lx" style="left:488.5px;top:80.9px">♌︎</i><i class="lx" style="left:514.2px;top:80.9px">♌︎</i><i class="lx" style="left:539.8px;top:80.9px">♌︎</i><i class="vx" style="left:565.5px;top:80.9px">♍︎</i><i class="vx" style="left:591.1px;top:80.9px">♍︎</i><i class="vx" style="left:616.8px;top:80.9px">♍︎</i><i class="vx" style="left:642.5px;top:80.9px">♍︎</i><i class="bx" style="left:668.1px;top:80.9px">♎︎</i><i class="bx" style="left:693.8px;top:80.9px">♎︎</i><i class="bx" style="left:719.4px;top:80.9px">♎︎</i><i class="bx" style="left:745.1px;top:80.9px">♎︎</i><i class="ox" style="left:770.7px;top:80.9px">♏︎</i><i class="ox" style="left:796.4px;top:80.9px">♏︎</i><i class="ox" style="left:822.1px;top:80.9px">♏︎</i><i class="ox" style="left:847.7px;top:80.9px">♏︎</i><i class="sx" style="left:873.4px;top:80.9px">♐︎</i><i class="sx" style="left:899.0px;top:80.9px">♐︎</i><i class="sx" style="left:924.7px;top:80.9px">♐︎</i><i class="sx" style="left:950.3px;top:80.9px">♐︎</i><i class="cx" style="left:976.0px;top:80.9px">♑︎</i><i class="cx" style="left:78.0px;top:106.6px">♑︎</i><i class="qx" style="left:103.7px;top:106.6px">♒︎</i><i class="px" style="left:129.3px;top:106.6px">♓︎</i><i class="px" style="left:155.0px;top:106.6px">♓︎</i><i class="ax" style="left:180.6px;top:106.6px">♈︎</i><i class="tx" style="left:206.3px;top:106.6px">♉︎</i><i class="tx" style="left:231.9px;top:106.6px">♉︎</i><i class="gx" style="left:257.6px;top:106.6px">♊︎</i><i class="gx" style="left:283.3px;top:106.6px">♊︎</i><i class="nx" style="left:308.9px;top:106.6px">♋︎</i><i class="nx" style="left:334.6px;top:106.6px">♋︎</i><i class="nx" style="left:360.2px;top:106.6px">♋︎</i><i class="nx" style="left:385.9px;top:106.6px">♋︎</i><i class="lx" style="left:411.5px;top:106.6px">♌︎</i><i class="lx" style="left:437.2px;top:106.6px">♌︎</i><i class="lx" style="left:462.9px;top:106.6px">♌︎</i><i class="lx" style="left:488.5px;top:106.6px">♌︎</i><i class="vx" style="left:514.2px;top:106.6px">♍︎</i><i class="vx" style="left:539.8px;top:106.6px">♍︎</i><i class="vx" style="left:565.5px;top:106.6px">♍︎</i><i class="vx" style="left:591.1px;top:106.6px">♍︎</i><i class="bx" style="left:616.8px;top:106.6px">♎︎</i><i class="bx" style="left:642.5px;top:106.6px">♎︎</i><i class="bx" style="left:668.1px;top:106.6px">♎︎</i><i class="bx" style="left:693.8px;top:106.6px">♎︎</i><i class="bx" style="left:719.4px;top:106.6px">♎︎</i><i class="ox" style="left:745.1px;top:106.6px">♏︎</i><i class="ox" style="left:770.7px;top:106.6px">♏︎</i><i class="ox" style="left:796.4px;top:106.6px">♏︎</i><i class="ox" style="left:822.1px;top:106.6px">♏︎</i><i class="sx" style="left:847.7px;top:106.6px">♐︎</i><i class="sx" style="left:873.4px;top:106.6px">♐︎</i><i class="sx" style="left:899.0px;top:106.6px">♐︎</i><i class="sx" style="left:924.7px;top:106.6px">♐︎</i><i class="cx" style="left:950.3px;top:106.6px">♑︎</i><i class="cx" style="left:976.0px;top:106.6px">♑︎</i><i class="qx" style="left:78.0px;top:132.2px">♒︎</i><i class="px" style="left:103.7px;top:132.2px">♓︎</i><i class="ax" style="left:129.3px;top:132.2px">♈︎</i><i class="ax" style="left:155.0px;top:132.2px">♈︎</i><i class="tx" style="left:180.6px;top:132.2px">♉︎</i><i class="gx" style="left:206.3px;top:132.2px">♊︎</i><i class="gx" style="left:231.9px;top:132.2px">♊︎</i><i class="gx" style="left:257.6px;top:132.2px">♊︎</i><i class="nx" style="left:283.3px;top:132.2px">♋︎</i><i class="nx" style="left:308.9px;top:132.2px">♋︎</i><i class="nx" style="left:334.6px;top:132.2px">♋︎</i><i class="nx" style="left:360.2px;top:132.2px">♋︎</i><i class="lx" style="left:385.9px;top:132.2px">♌︎</i><i class="lx" style="left:411.5px;top:132.2px">♌︎</i><i class="lx" style="left:437.2px;top:132.2px">♌︎</i><i class="lx" style="left:462.9px;top:132.2px">♌︎</i><i class="vx" style="left:488.5px;top:132.2px">♍︎</i><i class="vx" style="left:514.2px;top:132.2px">♍︎</i><i class="vx" style="left:539.8px;top:132.2px">♍︎</i><i class="vx" style="left:565.5px;top:132.2px">♍︎</i><i class="bx" style="left:591.1px;top:132.2px">♎︎</i><i class="bx" style="left:616.8px;top:132.2px">♎︎</i><i class="bx" style="left:642.5px;top:132.2px">♎︎</i><i class="bx" style="left:668.1px;top:132.2px">♎︎</i><i class="ox" style="left:693.8px;top:132.2px">♏︎</i><i class="ox" style="left:719.4px;top:132.2px">♏︎</i><i class="ox" style="left:745.1px;top:132.2px">♏︎</i><i class="ox" style="left:770.7px;top:132.2px">♏︎</i><i class="sx" style="left:796.4px;top:132.2px">♐︎</i><i class="sx" style="left:822.1px;top:132.2px">♐︎</i><i class="sx" style="left:847.7px;top:132.2px">♐︎</i><i class="sx" style="left:873.4px;top:132.2px">♐︎</i><i class="cx" style="left:899.0px;top:132.2px">♑︎</i><i class="cx" style="left:924.7px;top:132.2px">♑︎</i><i class="cx" style="left:950.3px;top:132.2px">♑︎</i><i class="qx" style="left:976.0px;top:132.2px">♒︎</i><i class="px" style="left:78.0px;top:157.9px">♓︎</i><i class="ax" style="left:103.7px;top:157.9px">♈︎</i><i class="tx" style="left:129.3px;top:157.9px">♉︎</i><i class="tx" style="left:155.0px;top:157.9px">♉︎</i><i class="gx" style="left:180.6px;top:157.9px">♊︎</i><i class="gx" style="left:206.3px;top:157.9px">♊︎</i><i class="nx" style="left:231.9px;top:157.9px">♋︎</i><i class="nx" style="left:257.6px;top:157.9px">♋︎</i><i class="nx" style="left:283.3px;top:157.9px">♋︎</i><i class="nx" style="left:308.9px;top:157.9px">♋︎</i><i class="lx" style="left:334.6px;top:157.9px">♌︎</i><i class="lx" style="left:360.2px;top:157.9px">♌︎</i><i class="lx" style="left:385.9px;top:157.9px">♌︎</i><i class="lx" style="left:411.5px;top:157.9px">♌︎</i><i class="vx" style="left:437.2px;top:157.9px">♍︎</i><i class="vx" style="left:462.9px;top:157.9px">♍︎</i><i class="vx" style="left:488.5px;top:157.9px">♍︎</i><i class="vx" style="left:514.2px;top:157.9px">♍︎</i><i class="bx" style="left:539.8px;top:157.9px">♎︎</i><i class="bx" style="left:565.5px;top:157.9px">♎︎</i><i class="bx" style="left:591.1px;top:157.9px">♎︎</i><i class="bx" style="left:616.8px;top:157.9px">♎︎</i><i class="ox" style="left:642.5px;top:157.9px">♏︎</i><i class="ox" style="left:668.1px;top:157.9px">♏︎</i><i class="ox" style="left:693.8px;top:157.9px">♏︎</i><i class="ox" style="left:719.4px;top:157.9px">♏︎</i><i class="ox" style="left:745.1px;top:157.9px">♏︎</i><i class="sx" style="left:770.7px;top:157.9px">♐︎</i><i class="sx" style="left:796.4px;top:157.9px">♐︎</i><i class="sx" style="left:822.1px;top:157.9px">♐︎</i><i class="sx" style="left:847.7px;top:157.9px">♐︎</i><i class="cx" style="left:873.4px;top:157.9px">♑︎</i><i class="cx" style="left:899.0px;top:157.9px">♑︎</i><i class="cx" style="left:924.7px;top:157.9px">♑︎</i><i class="qx" style="left:950.3px;top:157.9px">♒︎</i><i class="px" style="left:976.0px;top:157.9px">♓︎</i><i class="ax" style="left:78.0px;top:183.5px">♈︎</i><i class="tx" style="left:103.7px;top:183.5px">♉︎</i><i class="tx" style="left:129.3px;top:183.5px">♉︎</i><i class="gx" style="left:155.0px;top:183.5px">♊︎</i><i class="gx" style="left:180.6px;top:183.5px">♊︎</i><i class="nx" style="left:206.3px;top:183.5px">♋︎</i><i class="nx" style="left:231.9px;top:183.5px">♋︎</i><i class="nx" style="left:257.6px;top:183.5px">♋︎</i><i class="nx" style="left:283.3px;top:183.5px">♋︎</i><i class="lx" style="left:308.9px;top:183.5px">♌︎</i><i class="lx" style="left:334.6px;top:183.5px">♌︎</i><i class="lx" style="left:360.2px;top:183.5px">♌︎</i><i class="lx" style="left:385.9px;top:183.5px">♌︎</i><i class="vx" style="left:411.5px;top:183.5px">♍︎</i><i class="vx" style="left:437.2px;top:183.5px">♍︎</i><i class="vx" style="left:462.9px;top:183.5px">♍︎</i><i class="vx" style="left:488.5px;top:183.5px">♍︎</i><i class="bx" style="left:514.2px;top:183.5px">♎︎</i><i class="bx" style="left:539.8px;top:183.5px">♎︎</i><i class="bx" style="left:565.5px;top:183.5px">♎︎</i><i class="bx" style="left:591.1px;top:183.5px">♎︎</i><i class="ox" style="left:616.8px;top:183.5px">♏︎</i><i class="ox" style="left:642.5px;top:183.5px">♏︎</i><i class="ox" style="left:668.1px;top:183.5px">♏︎</i><i class="ox" style="left:693.8px;top:183.5px">♏︎</i><i class="sx" style="left:719.4px;top:183.5px">♐︎</i><i class="sx" style="left:745.1px;top:183.5px">♐︎</i><i class="sx" style="left:770.7px;top:183.5px">♐︎</i><i class="sx" style="left:796.4px;top:183.5px">♐︎</i><i class="cx" style="left:822.1px;top:183.5px">♑︎</i><i class="cx" style="left:847.7px;top:183.5px">♑︎</i><i class="cx" style="left:873.4px;top:183.5px">♑︎</i><i class="qx" style="left:899.0px;top:183.5px">♒︎</i><i class="qx" style="left:924.7px;top:183.5px">♒︎</i><i class="px" style="left:950.3px;top:183.5px">♓︎</i><i class="ax" style="left:976.0px;top:183.5px">♈︎</i><i class="tx" style="left:78.0px;top:209.2px">♉︎</i><i class="gx" style="left:103.7px;top:209.2px">♊︎</i><i class="gx" style="left:129.3px;top:209.2px">♊︎</i><i class="nx" style="left:155.0px;top:209.2px">♋︎</i><i class="nx" style="left:180.6px;top:209.2px">♋︎</i><i class="nx" style="left:206.3px;top:209.2px">♋︎</i><i class="nx" style="left:231.9px;top:209.2px">♋︎</i><i class="lx" style="left:257.6px;top:209.2px">♌︎</i><i class="lx" style="left:283.3px;top:209.2px">♌︎</i><i class="lx" style="left:308.9px;top:209.2px">♌︎</i><i class="lx" style="left:334.6px;top:209.2px">♌︎</i><i class="vx" style="left:360.2px;top:209.2px">♍︎</i><i class="vx" style="left:385.9px;top:209.2px">♍︎</i><i class="vx" style="left:411.5px;top:209.2px">♍︎</i><i class="vx" style="left:437.2px;top:209.2px">♍︎</i><i class="bx" style="left:462.9px;top:209.2px">♎︎</i><i class="bx" style="left:488.5px;top:209.2px">♎︎</i><i class="bx" style="left:514.2px;top:209.2px">♎︎</i><i class="bx" style="left:539.8px;top:209.2px">♎︎</i><i class="ox" style="left:565.5px;top:209.2px">♏︎</i><i class="ox" style="left:591.1px;top:209.2px">♏︎</i><i class="ox" style="left:616.8px;top:209.2px">♏︎</i><i class="ox" style="left:642.5px;top:209.2px">♏︎</i><i class="ox" style="left:668.1px;top:209.2px">♏︎</i><i class="sx" style="left:693.8px;top:209.2px">♐︎</i><i class="sx" style="left:719.4px;top:209.2px">♐︎</i><i class="sx" style="left:745.1px;top:209.2px">♐︎</i><i class="sx" style="left:770.7px;top:209.2px">♐︎</i><i class="cx" style="left:796.4px;top:209.2px">♑︎</i><i class="cx" style="left:822.1px;top:209.2px">♑︎</i><i class="qx" style="left:847.7px;top:209.2px">♒︎</i><i class="qx" style="left:873.4px;top:209.2px">♒︎</i><i class="px" style="left:899.0px;top:209.2px">♓︎</i><i class="px" style="left:924.7px;top:209.2px">♓︎</i><i class="ax" style="left:950.3px;top:209.2px">♈︎</i><i class="tx" style="left:976.0px;top:209.2px">♉︎</i><i class="gx" style="left:78.0px;top:234.8px">♊︎</i><i class="gx" style="left:103.7px;top:234.8px">♊︎</i><i class="nx" style="left:129.3px;top:234.8px">♋︎</i><i class="nx" style="left:155.0px;top:234.8px">♋︎</i><i class="nx" style="left:180.6px;top:234.8px">♋︎</i><i class="nx" style="left:206.3px;top:234.8px">♋︎</i><i class="lx" style="left:231.9px;top:234.8px">♌︎</i><i class="lx" style="left:257.6px;top:234.8px">♌︎</i><i class="lx" style="left:283.3px;top:234.8px">♌︎</i><i class="lx" style="left:308.9px;top:234.8px">♌︎</i><i class="vx" style="left:334.6px;top:234.8px">♍︎</i><i class="vx" style="left:360.2px;top:234.8px">♍︎</i><i class="vx" style="left:385.9px;top:234.8px">♍︎</i><i class="vx" style="left:411.5px;top:234.8px">♍︎</i><i class="bx" style="left:437.2px;top:234.8px">♎︎</i><i class="bx" style="left:462.9px;top:234.8px">♎︎</i><i class="bx" style="left:488.5px;top:234.8px">♎︎</i><i class="bx" style="left:514.2px;top:234.8px">♎︎</i><i class="ox" style="left:539.8px;top:234.8px">♏︎</i><i class="ox" style="left:565.5px;top:234.8px">♏︎</i><i class="ox" style="left:591.1px;top:234.8px">♏︎</i><i class="ox" style="left:616.8px;top:234.8px">♏︎</i><i class="sx" style="left:642.5px;top:234.8px">♐︎</i><i class="sx" style="left:668.1px;top:234.8px">♐︎</i><i class="sx" style="left:693.8px;top:234.8px">♐︎</i><i class="sx" style="left:719.4px;top:234.8px">♐︎</i><i class="cx" style="left:745.1px;top:234.8px">♑︎</i><i class="cx" style="left:770.7px;top:234.8px">♑︎</i><i class="cx" style="left:796.4px;top:234.8px">♑︎</i><i class="qx" style="left:822.1px;top:234.8px">♒︎</i><i class="qx" style="left:847.7px;top:234.8px">♒︎</i><i class="px" style="left:873.4px;top:234.8px">♓︎</i><i class="ax" style="left:899.0px;top:234.8px">♈︎</i><i class="ax" style="left:924.7px;top:234.8px">♈︎</i><i class="tx" style="left:950.3px;top:234.8px">♉︎</i><i class="gx" style="left:976.0px;top:234.8px">♊︎</i><i class="gx" style="left:78.0px;top:260.5px">♊︎</i><i class="nx" style="left:103.7px;top:260.5px">♋︎</i><i class="nx" style="left:129.3px;top:260.5px">♋︎</i><i class="nx" style="left:155.0px;top:260.5px">♋︎</i><i class="lx" style="left:180.6px;top:260.5px">♌︎</i><i class="lx" style="left:206.3px;top:260.5px">♌︎</i><i class="lx" style="left:231.9px;top:260.5px">♌︎</i><i class="lx" style="left:257.6px;top:260.5px">♌︎</i><i class="vx" style="left:283.3px;top:260.5px">♍︎</i><i class="vx" style="left:308.9px;top:260.5px">♍︎</i><i class="vx" style="left:334.6px;top:260.5px">♍︎</i><i class="vx" style="left:360.2px;top:260.5px">♍︎</i><i class="bx" style="left:385.9px;top:260.5px">♎︎</i><i class="bx" style="left:411.5px;top:260.5px">♎︎</i><i class="bx" style="left:437.2px;top:260.5px">♎︎</i><i class="bx" style="left:462.9px;top:260.5px">♎︎</i><i class="ox" style="left:488.5px;top:260.5px">♏︎</i><i class="ox" style="left:514.2px;top:260.5px">♏︎</i><i class="ox" style="left:539.8px;top:260.5px">♏︎</i><i class="ox" style="left:565.5px;top:260.5px">♏︎</i><i class="ox" style="left:591.1px;top:260.5px">♏︎</i><i class="sx" style="left:616.8px;top:260.5px">♐︎</i><i class="sx" style="left:642.5px;top:260.5px">♐︎</i><i class="sx" style="left:668.1px;top:260.5px">♐︎</i><i class="cx" style="left:693.8px;top:260.5px">♑︎</i><i class="cx" style="left:719.4px;top:260.5px">♑︎</i><i class="cx" style="left:745.1px;top:260.5px">♑︎</i><i class="qx" style="left:770.7px;top:260.5px">♒︎</i><i class="qx" style="left:796.4px;top:260.5px">♒︎</i><i class="px" style="left:822.1px;top:260.5px">♓︎</i><i class="px" style="left:847.7px;top:260.5px">♓︎</i><i class="ax" style="left:873.4px;top:260.5px">♈︎</i><i class="tx" style="left:899.0px;top:260.5px">♉︎</i><i class="tx" style="left:924.7px;top:260.5px">♉︎</i><i class="gx" style="left:950.3px;top:260.5px">♊︎</i><i class="gx" style="left:976.0px;top:260.5px">♊︎</i><i class="nx" style="left:78.0px;top:286.1px">♋︎</i><i class="nx" style="left:103.7px;top:286.1px">♋︎</i><i class="nx" style="left:129.3px;top:286.1px">♋︎</i><i class="lx" style="left:155.0px;top:286.1px">♌︎</i><i class="lx" style="left:180.6px;top:286.1px">♌︎</i><i class="lx" style="left:206.3px;top:286.1px">♌︎</i><i class="lx" style="left:231.9px;top:286.1px">♌︎</i><i class="vx" style="left:257.6px;top:286.1px">♍︎</i><i class="vx" style="left:283.3px;top:286.1px">♍︎</i><i class="vx" style="left:308.9px;top:286.1px">♍︎</i><i class="vx" style="left:334.6px;top:286.1px">♍︎</i><i class="bx" style="left:360.2px;top:286.1px">♎︎</i><i class="bx" style="left:385.9px;top:286.1px">♎︎</i><i class="bx" style="left:411.5px;top:286.1px">♎︎</i><i class="bx" style="left:437.2px;top:286.1px">♎︎</i><i class="ox" style="left:462.9px;top:286.1px">♏︎</i><i class="ox" style="left:488.5px;top:286.1px">♏︎</i><i class="ox" style="left:514.2px;top:286.1px">♏︎</i><i class="ox" style="left:539.8px;top:286.1px">♏︎</i><i class="sx" style="left:565.5px;top:286.1px">♐︎</i><i class="sx" style="left:591.1px;top:286.1px">♐︎</i><i class="sx" style="left:616.8px;top:286.1px">♐︎</i><i class="sx" style="left:642.5px;top:286.1px">♐︎</i><i class="cx" style="left:668.1px;top:286.1px">♑︎</i><i class="cx" style="left:693.8px;top:286.1px">♑︎</i><i class="cx" style="left:719.4px;top:286.1px">♑︎</i><i class="qx" style="left:745.1px;top:286.1px">♒︎</i><i class="qx" style="left:770.7px;top:286.1px">♒︎</i><i class="px" style="left:796.4px;top:286.1px">♓︎</i><i class="ax" style="left:822.1px;top:286.1px">♈︎</i><i class="tx" style="left:847.7px;top:286.1px">♉︎</i><i class="tx" style="left:873.4px;top:286.1px">♉︎</i><i class="gx" style="left:899.0px;top:286.1px">♊︎</i><i class="gx" style="left:924.7px;top:286.1px">♊︎</i><i class="gx" style="left:950.3px;top:286.1px">♊︎</i><i class="nx" style="left:976.0px;top:286.1px">♋︎</i><i class="nx" style="left:78.0px;top:311.8px">♋︎</i><i class="lx" style="left:103.7px;top:311.8px">♌︎</i><i class="lx" style="left:129.3px;top:311.8px">♌︎</i><i class="lx" style="left:155.0px;top:311.8px">♌︎</i><i class="lx" style="left:180.6px;top:311.8px">♌︎</i><i class="vx" style="left:206.3px;top:311.8px">♍︎</i><i class="vx" style="left:231.9px;top:311.8px">♍︎</i><i class="vx" style="left:257.6px;top:311.8px">♍︎</i><i class="vx" style="left:283.3px;top:311.8px">♍︎</i><i class="bx" style="left:308.9px;top:311.8px">♎︎</i><i class="bx" style="left:334.6px;top:311.8px">♎︎</i><i class="bx" style="left:360.2px;top:311.8px">♎︎</i><i class="bx" style="left:385.9px;top:311.8px">♎︎</i><i class="bx" style="left:411.5px;top:311.8px">♎︎</i><i class="ox" style="left:437.2px;top:311.8px">♏︎</i><i class="ox" style="left:462.9px;top:311.8px">♏︎</i><i class="ox" style="left:488.5px;top:311.8px">♏︎</i><i class="ox" style="left:514.2px;top:311.8px">♏︎</i><i class="sx" style="left:539.8px;top:311.8px">♐︎</i><i class="sx" style="left:565.5px;top:311.8px">♐︎</i><i class="sx" style="left:591.1px;top:311.8px">♐︎</i><i class="cx" style="left:616.8px;top:311.8px">♑︎</i><i class="cx" style="left:642.5px;top:311.8px">♑︎</i><i class="cx" style="left:668.1px;top:311.8px">♑︎</i><i class="qx" style="left:693.8px;top:311.8px">♒︎</i><i class="qx" style="left:719.4px;top:311.8px">♒︎</i><i class="px" style="left:745.1px;top:311.8px">♓︎</i><i class="ax" style="left:770.7px;top:311.8px">♈︎</i><i class="ax" style="left:796.4px;top:311.8px">♈︎</i><i class="tx" style="left:822.1px;top:311.8px">♉︎</i><i class="tx" style="left:847.7px;top:311.8px">♉︎</i><i class="gx" style="left:873.4px;top:311.8px">♊︎</i><i class="gx" style="left:899.0px;top:311.8px">♊︎</i><i class="gx" style="left:924.7px;top:311.8px">♊︎</i><i class="nx" style="left:950.3px;top:311.8px">♋︎</i><i class="nx" style="left:976.0px;top:311.8px">♋︎</i><i class="lx" style="left:78.0px;top:337.4px">♌︎</i><i class="lx" style="left:103.7px;top:337.4px">♌︎</i><i class="lx" style="left:129.3px;top:337.4px">♌︎</i><i class="lx" style="left:155.0px;top:337.4px">♌︎</i><i class="vx" style="left:180.6px;top:337.4px">♍︎</i><i class="vx" style="left:206.3px;top:337.4px">♍︎</i><i class="vx" style="left:231.9px;top:337.4px">♍︎</i><i class="vx" style="left:257.6px;top:337.4px">♍︎</i><i class="bx" style="left:283.3px;top:337.4px">♎︎</i><i class="bx" style="left:308.9px;top:337.4px">♎︎</i><i class="bx" style="left:334.6px;top:337.4px">♎︎</i><i class="bx" style="left:360.2px;top:337.4px">♎︎</i><i class="ox" style="left:385.9px;top:337.4px">♏︎</i><i class="ox" style="left:411.5px;top:337.4px">♏︎</i><i class="ox" style="left:437.2px;top:337.4px">♏︎</i><i class="ox" style="left:462.9px;top:337.4px">♏︎</i><i class="sx" style="left:488.5px;top:337.4px">♐︎</i><i class="sx" style="left:514.2px;top:337.4px">♐︎</i><i class="sx" style="left:539.8px;top:337.4px">♐︎</i><i class="sx" style="left:565.5px;top:337.4px">♐︎</i><i class="cx" style="left:591.1px;top:337.4px">♑︎</i><i class="cx" style="left:616.8px;top:337.4px">♑︎</i><i class="cx" style="left:642.5px;top:337.4px">♑︎</i><i class="qx" style="left:668.1px;top:337.4px">♒︎</i><i class="px" style="left:693.8px;top:337.4px">♓︎</i><i class="px" style="left:719.4px;top:337.4px">♓︎</i><i class="ax" style="left:745.1px;top:337.4px">♈︎</i><i class="tx" style="left:770.7px;top:337.4px">♉︎</i><i class="tx" style="left:796.4px;top:337.4px">♉︎</i><i class="gx" style="left:822.1px;top:337.4px">♊︎</i><i class="gx" style="left:847.7px;top:337.4px">♊︎</i><i class="gx" style="left:873.4px;top:337.4px">♊︎</i><i class="nx" style="left:899.0px;top:337.4px">♋︎</i><i class="nx" style="left:924.7px;top:337.4px">♋︎</i><i class="nx" style="left:950.3px;top:337.4px">♋︎</i><i class="nx" style="left:976.0px;top:337.4px">♋︎</i><i class="lx" style="left:78.0px;top:363.1px">♌︎</i><i class="lx" style="left:103.7px;top:363.1px">♌︎</i><i class="lx" style="left:129.3px;top:363.1px">♌︎</i><i class="vx" style="left:155.0px;top:363.1px">♍︎</i><i class="vx" style="left:180.6px;top:363.1px">♍︎</i><i class="vx" style="left:206.3px;top:363.1px">♍︎</i><i class="vx" style="left:231.9px;top:363.1px">♍︎</i><i class="bx" style="left:257.6px;top:363.1px">♎︎</i><i class="bx" style="left:283.3px;top:363.1px">♎︎</i><i class="bx" style="left:308.9px;top:363.1px">♎︎</i><i class="bx" style="left:334.6px;top:363.1px">♎︎</i><i class="ox" style="left:360.2px;top:363.1px">♏︎</i><i class="ox" style="left:385.9px;top:363.1px">♏︎</i><i class="ox" style="left:411.5px;top:363.1px">♏︎</i><i class="ox" style="left:437.2px;top:363.1px">♏︎</i><i class="sx" style="left:462.9px;top:363.1px">♐︎</i><i class="sx" style="left:488.5px;top:363.1px">♐︎</i><i class="sx" style="left:514.2px;top:363.1px">♐︎</i><i class="cx" style="left:539.8px;top:363.1px">♑︎</i><i class="cx" style="left:565.5px;top:363.1px">♑︎</i><i class="cx" style="left:591.1px;top:363.1px">♑︎</i><i class="qx" style="left:616.8px;top:363.1px">♒︎</i><i class="qx" style="left:642.5px;top:363.1px">♒︎</i><i class="px" style="left:668.1px;top:363.1px">♓︎</i><i class="ax" style="left:693.8px;top:363.1px">♈︎</i><i class="ax" style="left:719.4px;top:363.1px">♈︎</i><i class="tx" style="left:745.1px;top:363.1px">♉︎</i><i class="tx" style="left:770.7px;top:363.1px">♉︎</i><i class="gx" style="left:796.4px;top:363.1px">♊︎</i><i class="gx" style="left:822.1px;top:363.1px">♊︎</i><i class="nx" style="left:847.7px;top:363.1px">♋︎</i><i class="nx" style="left:873.4px;top:363.1px">♋︎</i><i class="nx" style="left:899.0px;top:363.1px">♋︎</i><i class="nx" style="left:924.7px;top:363.1px">♋︎</i><i class="lx" style="left:950.3px;top:363.1px">♌︎</i><i class="lx" style="left:976.0px;top:363.1px">♌︎</i><i class="lx" style="left:78.0px;top:388.8px">♌︎</i><i class="vx" style="left:103.7px;top:388.8px">♍︎</i><i class="vx" style="left:129.3px;top:388.8px">♍︎</i><i class="vx" style="left:155.0px;top:388.8px">♍︎</i><i class="vx" style="left:180.6px;top:388.8px">♍︎</i><i class="bx" style="left:206.3px;top:388.8px">♎︎</i><i class="bx" style="left:231.9px;top:388.8px">♎︎</i><i class="bx" style="left:257.6px;top:388.8px">♎︎</i><i class="bx" style="left:283.3px;top:388.8px">♎︎</i><i class="ox" style="left:308.9px;top:388.8px">♏︎</i><i class="ox" style="left:334.6px;top:388.8px">♏︎</i><i class="ox" style="left:360.2px;top:388.8px">♏︎</i><i class="ox" style="left:385.9px;top:388.8px">♏︎</i><i class="sx" style="left:411.5px;top:388.8px">♐︎</i><i class="sx" style="left:437.2px;top:388.8px">♐︎</i><i class="sx" style="left:462.9px;top:388.8px">♐︎</i><i class="sx" style="left:488.5px;top:388.8px">♐︎</i><i class="cx" style="left:514.2px;top:388.8px">♑︎</i><i class="cx" style="left:539.8px;top:388.8px">♑︎</i><i class="cx" style="left:565.5px;top:388.8px">♑︎</i><i class="qx" style="left:591.1px;top:388.8px">♒︎</i><i class="px" style="left:616.8px;top:388.8px">♓︎</i><i class="px" style="left:642.5px;top:388.8px">♓︎</i><i class="ax" style="left:668.1px;top:388.8px">♈︎</i><i class="tx" style="left:693.8px;top:388.8px">♉︎</i><i class="tx" style="left:719.4px;top:388.8px">♉︎</i><i class="gx" style="left:745.1px;top:388.8px">♊︎</i><i class="gx" style="left:770.7px;top:388.8px">♊︎</i><i class="gx" style="left:796.4px;top:388.8px">♊︎</i><i class="nx" style="left:822.1px;top:388.8px">♋︎</i><i class="nx" style="left:847.7px;top:388.8px">♋︎</i><i class="nx" style="left:873.4px;top:388.8px">♋︎</i><i class="nx" style="left:899.0px;top:388.8px">♋︎</i><i class="lx" style="left:924.7px;top:388.8px">♌︎</i><i class="lx" style="left:950.3px;top:388.8px">♌︎</i><i class="lx" style="left:976.0px;top:388.8px">♌︎</i><i class="vx" style="left:78.0px;top:414.4px">♍︎</i><i class="vx" style="left:103.7px;top:414.4px">♍︎</i><i class="vx" style="left:129.3px;top:414.4px">♍︎</i><i class="vx" style="left:155.0px;top:414.4px">♍︎</i><i class="bx" style="left:180.6px;top:414.4px">♎︎</i><i class="bx" style="left:206.3px;top:414.4px">♎︎</i><i class="bx" style="left:231.9px;top:414.4px">♎︎</i><i class="bx" style="left:257.6px;top:414.4px">♎︎</i><i class="ox" style="left:283.3px;top:414.4px">♏︎</i><i class="ox" style="left:308.9px;top:414.4px">♏︎</i><i class="ox" style="left:334.6px;top:414.4px">♏︎</i><i class="ox" style="left:360.2px;top:414.4px">♏︎</i><i class="sx" style="left:385.9px;top:414.4px">♐︎</i><i class="sx" style="left:411.5px;top:414.4px">♐︎</i><i class="sx" style="left:437.2px;top:414.4px">♐︎</i><i class="cx" style="left:462.9px;top:414.4px">♑︎</i><i class="cx" style="left:488.5px;top:414.4px">♑︎</i><i class="cx" style="left:514.2px;top:414.4px">♑︎</i><i class="qx" style="left:539.8px;top:414.4px">♒︎</i><i class="qx" style="left:565.5px;top:414.4px">♒︎</i><i class="px" style="left:591.1px;top:414.4px">♓︎</i><i class="ax" style="left:616.8px;top:414.4px">♈︎</i><i class="ax" style="left:642.5px;top:414.4px">♈︎</i><i class="tx" style="left:668.1px;top:414.4px">♉︎</i><i class="gx" style="left:693.8px;top:414.4px">♊︎</i><i class="gx" style="left:719.4px;top:414.4px">♊︎</i><i class="gx" style="left:745.1px;top:414.4px">♊︎</i><i class="nx" style="left:770.7px;top:414.4px">♋︎</i><i class="nx" style="left:796.4px;top:414.4px">♋︎</i><i class="nx" style="left:822.1px;top:414.4px">♋︎</i><i class="nx" style="left:847.7px;top:414.4px">♋︎</i><i class="lx" style="left:873.4px;top:414.4px">♌︎</i><i class="lx" style="left:899.0px;top:414.4px">♌︎</i><i class="lx" style="left:924.7px;top:414.4px">♌︎</i><i class="lx" style="left:950.3px;top:414.4px">♌︎</i><i class="lx" style="left:976.0px;top:414.4px">♌︎</i><i class="vx" style="left:78.0px;top:440.0px">♍︎</i><i class="vx" style="left:103.7px;top:440.0px">♍︎</i><i class="bx" style="left:129.3px;top:440.0px">♎︎</i><i class="bx" style="left:155.0px;top:440.0px">♎︎</i><i class="bx" style="left:180.6px;top:440.0px">♎︎</i><i class="bx" style="left:206.3px;top:440.0px">♎︎</i><i class="ox" style="left:231.9px;top:440.0px">♏︎</i><i class="ox" style="left:257.6px;top:440.0px">♏︎</i><i class="ox" style="left:283.3px;top:440.0px">♏︎</i><i class="ox" style="left:308.9px;top:440.0px">♏︎</i><i class="sx" style="left:334.6px;top:440.0px">♐︎</i><i class="sx" style="left:360.2px;top:440.0px">♐︎</i><i class="sx" style="left:385.9px;top:440.0px">♐︎</i><i class="sx" style="left:411.5px;top:440.0px">♐︎</i><i class="cx" style="left:437.2px;top:440.0px">♑︎</i><i class="cx" style="left:462.9px;top:440.0px">♑︎</i><i class="cx" style="left:488.5px;top:440.0px">♑︎</i><i class="qx" style="left:514.2px;top:440.0px">♒︎</i><i class="px" style="left:539.8px;top:440.0px">♓︎</i><i class="px" style="left:565.5px;top:440.0px">♓︎</i><i class="ax" style="left:591.1px;top:440.0px">♈︎</i><i class="tx" style="left:616.8px;top:440.0px">♉︎</i><i class="tx" style="left:642.5px;top:440.0px">♉︎</i><i class="gx" style="left:668.1px;top:440.0px">♊︎</i><i class="gx" style="left:693.8px;top:440.0px">♊︎</i><i class="gx" style="left:719.4px;top:440.0px">♊︎</i><i class="nx" style="left:745.1px;top:440.0px">♋︎</i><i class="nx" style="left:770.7px;top:440.0px">♋︎</i><i class="nx" style="left:796.4px;top:440.0px">♋︎</i><i class="nx" style="left:822.1px;top:440.0px">♋︎</i><i class="lx" style="left:847.7px;top:440.0px">♌︎</i><i class="lx" style="left:873.4px;top:440.0px">♌︎</i><i class="lx" style="left:899.0px;top:440.0px">♌︎</i><i class="lx" style="left:924.7px;top:440.0px">♌︎</i><i class="vx" style="left:950.3px;top:440.0px">♍︎</i><i class="vx" style="left:976.0px;top:440.0px">♍︎</i><i class="vx" style="left:78.0px;top:465.7px">♍︎</i><i class="bx" style="left:103.7px;top:465.7px">♎︎</i><i class="bx" style="left:129.3px;top:465.7px">♎︎</i><i class="bx" style="left:155.0px;top:465.7px">♎︎</i><i class="bx" style="left:180.6px;top:465.7px">♎︎</i><i class="ox" style="left:206.3px;top:465.7px">♏︎</i><i class="ox" style="left:231.9px;top:465.7px">♏︎</i><i class="ox" style="left:257.6px;top:465.7px">♏︎</i><i class="ox" style="left:283.3px;top:465.7px">♏︎</i><i class="sx" style="left:308.9px;top:465.7px">♐︎</i><i class="sx" style="left:334.6px;top:465.7px">♐︎</i><i class="sx" style="left:360.2px;top:465.7px">♐︎</i><i class="cx" style="left:385.9px;top:465.7px">♑︎</i><i class="cx" style="left:411.5px;top:465.7px">♑︎</i><i class="cx" style="left:437.2px;top:465.7px">♑︎</i><i class="qx" style="left:462.9px;top:465.7px">♒︎</i><i class="qx" style="left:488.5px;top:465.7px">♒︎</i><i class="px" style="left:514.2px;top:465.7px">♓︎</i><i class="ax" style="left:539.8px;top:465.7px">♈︎</i><i class="ax" style="left:565.5px;top:465.7px">♈︎</i><i class="tx" style="left:591.1px;top:465.7px">♉︎</i><i class="gx" style="left:616.8px;top:465.7px">♊︎</i><i class="gx" style="left:642.5px;top:465.7px">♊︎</i><i class="gx" style="left:668.1px;top:465.7px">♊︎</i><i class="nx" style="left:693.8px;top:465.7px">♋︎</i><i class="nx" style="left:719.4px;top:465.7px">♋︎</i><i class="nx" style="left:745.1px;top:465.7px">♋︎</i><i class="nx" style="left:770.7px;top:465.7px">♋︎</i><i class="lx" style="left:796.4px;top:465.7px">♌︎</i><i class="lx" style="left:822.1px;top:465.7px">♌︎</i><i class="lx" style="left:847.7px;top:465.7px">♌︎</i><i class="lx" style="left:873.4px;top:465.7px">♌︎</i><i class="vx" style="left:899.0px;top:465.7px">♍︎</i><i class="vx" style="left:924.7px;top:465.7px">♍︎</i><i class="vx" style="left:950.3px;top:465.7px">♍︎</i><i class="vx" style="left:976.0px;top:465.7px">♍︎</i><i class="bx" style="left:78.0px;top:491.3px">♎︎</i><i class="bx" style="left:103.7px;top:491.3px">♎︎</i><i class="bx" style="left:129.3px;top:491.3px">♎︎</i><i class="ox" style="left:155.0px;top:491.3px">♏︎</i><i class="ox" style="left:180.6px;top:491.3px">♏︎</i><i class="ox" style="left:206.3px;top:491.3px">♏︎</i><i class="ox" style="left:231.9px;top:491.3px">♏︎</i><i class="sx" style="left:257.6px;top:491.3px">♐︎</i><i class="sx" style="left:283.3px;top:491.3px">♐︎</i><i class="sx" style="left:308.9px;top:491.3px">♐︎</i><i class="sx" style="left:334.6px;top:491.3px">♐︎</i><i class="cx" style="left:360.2px;top:491.3px">♑︎</i><i class="cx" style="left:385.9px;top:491.3px">♑︎</i><i class="cx" style="left:411.5px;top:491.3px">♑︎</i><i class="qx" style="left:437.2px;top:491.3px">♒︎</i><i class="px" style="left:462.9px;top:491.3px">♓︎</i><i class="px" style="left:488.5px;top:491.3px">♓︎</i><i class="ax" style="left:514.2px;top:491.3px">♈︎</i><i class="tx" style="left:539.8px;top:491.3px">♉︎</i><i class="tx" style="left:565.5px;top:491.3px">♉︎</i><i class="gx" style="left:591.1px;top:491.3px">♊︎</i><i class="gx" style="left:616.8px;top:491.3px">♊︎</i><i class="gx" style="left:642.5px;top:491.3px">♊︎</i><i class="nx" style="left:668.1px;top:491.3px">♋︎</i><i class="nx" style="left:693.8px;top:491.3px">♋︎</i><i class="nx" style="left:719.4px;top:491.3px">♋︎</i><i class="nx" style="left:745.1px;top:491.3px">♋︎</i><i class="lx" style="left:770.7px;top:491.3px">♌︎</i><i class="lx" style="left:796.4px;top:491.3px">♌︎</i><i class="lx" style="left:822.1px;top:491.3px">♌︎</i><i class="lx" style="left:847.7px;top:491.3px">♌︎</i><i class="vx" style="left:873.4px;top:491.3px">♍︎</i><i class="vx" style="left:899.0px;top:491.3px">♍︎</i><i class="vx" style="left:924.7px;top:491.3px">♍︎</i><i class="vx" style="left:950.3px;top:491.3px">♍︎</i><i class="bx" style="left:976.0px;top:491.3px">♎︎</i><i class="bx" style="left:78.0px;top:517.0px">♎︎</i><i class="ox" style="left:103.7px;top:517.0px">♏︎</i><i class="ox" style="left:129.3px;top:517.0px">♏︎</i><i class="ox" style="left:155.0px;top:517.0px">♏︎</i><i class="ox" style="left:180.6px;top:517.0px">♏︎</i><i class="ox" style="left:206.3px;top:517.0px">♏︎</i><i class="sx" style="left:231.9px;top:517.0px">♐︎</i><i class="sx" style="left:257.6px;top:517.0px">♐︎</i><i class="sx" style="left:283.3px;top:517.0px">♐︎</i><i class="sx" style="left:308.9px;top:517.0px">♐︎</i><i class="cx" style="left:334.6px;top:517.0px">♑︎</i><i class="cx" style="left:360.2px;top:517.0px">♑︎</i><i class="qx" style="left:385.9px;top:517.0px">♒︎</i><i class="qx" style="left:411.5px;top:517.0px">♒︎</i><i class="px" style="left:437.2px;top:517.0px">♓︎</i><i class="ax" style="left:462.9px;top:517.0px">♈︎</i><i class="ax" style="left:488.5px;top:517.0px">♈︎</i><i class="tx" style="left:514.2px;top:517.0px">♉︎</i><i class="gx" style="left:539.8px;top:517.0px">♊︎</i><i class="gx" style="left:565.5px;top:517.0px">♊︎</i><i class="gx" style="left:591.1px;top:517.0px">♊︎</i><i class="nx" style="left:616.8px;top:517.0px">♋︎</i><i class="nx" style="left:642.5px;top:517.0px">♋︎</i><i class="nx" style="left:668.1px;top:517.0px">♋︎</i><i class="nx" style="left:693.8px;top:517.0px">♋︎</i><i class="lx" style="left:719.4px;top:517.0px">♌︎</i><i class="lx" style="left:745.1px;top:517.0px">♌︎</i><i class="lx" style="left:770.7px;top:517.0px">♌︎</i><i class="lx" style="left:796.4px;top:517.0px">♌︎</i><i class="vx" style="left:822.1px;top:517.0px">♍︎</i><i class="vx" style="left:847.7px;top:517.0px">♍︎</i><i class="vx" style="left:873.4px;top:517.0px">♍︎</i><i class="vx" style="left:899.0px;top:517.0px">♍︎</i><i class="vx" style="left:924.7px;top:517.0px">♍︎</i><i class="bx" style="left:950.3px;top:517.0px">♎︎</i><i class="bx" style="left:976.0px;top:517.0px">♎︎</i><i class="ox" style="left:78.0px;top:542.6px">♏︎</i><i class="ox" style="left:103.7px;top:542.6px">♏︎</i><i class="ox" style="left:129.3px;top:542.6px">♏︎</i><i class="ox" style="left:155.0px;top:542.6px">♏︎</i><i class="ox" style="left:180.6px;top:542.6px">♏︎</i><i class="sx" style="left:206.3px;top:542.6px">♐︎</i><i class="sx" style="left:231.9px;top:542.6px">♐︎</i><i class="sx" style="left:257.6px;top:542.6px">♐︎</i><i class="cx" style="left:283.3px;top:542.6px">♑︎</i><i class="cx" style="left:308.9px;top:542.6px">♑︎</i><i class="cx" style="left:334.6px;top:542.6px">♑︎</i><i class="qx" style="left:360.2px;top:542.6px">♒︎</i><i class="px" style="left:385.9px;top:542.6px">♓︎</i><i class="px" style="left:411.5px;top:542.6px">♓︎</i><i class="ax" style="left:437.2px;top:542.6px">♈︎</i><i class="tx" style="left:462.9px;top:542.6px">♉︎</i><i class="tx" style="left:488.5px;top:542.6px">♉︎</i><i class="gx" style="left:514.2px;top:542.6px">♊︎</i><i class="gx" style="left:539.8px;top:542.6px">♊︎</i><i class="gx" style="left:565.5px;top:542.6px">♊︎</i><i class="nx" style="left:591.1px;top:542.6px">♋︎</i><i class="nx" style="left:616.8px;top:542.6px">♋︎</i><i class="nx" style="left:642.5px;top:542.6px">♋︎</i><i class="lx" style="left:668.1px;top:542.6px">♌︎</i><i class="lx" style="left:693.8px;top:542.6px">♌︎</i><i class="lx" style="left:719.4px;top:542.6px">♌︎</i><i class="lx" style="left:745.1px;top:542.6px">♌︎</i><i class="lx" style="left:770.7px;top:542.6px">♌︎</i><i class="vx" style="left:796.4px;top:542.6px">♍︎</i><i class="vx" style="left:822.1px;top:542.6px">♍︎</i><i class="vx" style="left:847.7px;top:542.6px">♍︎</i><i class="vx" style="left:873.4px;top:542.6px">♍︎</i><i class="bx" style="left:899.0px;top:542.6px">♎︎</i><i class="bx" style="left:924.7px;top:542.6px">♎︎</i><i class="bx" style="left:950.3px;top:542.6px">♎︎</i><i class="bx" style="left:976.0px;top:542.6px">♎︎</i><i class="ox" style="left:78.0px;top:568.3px">♏︎</i><i class="ox" style="left:103.7px;top:568.3px">♏︎</i><i class="ox" style="left:129.3px;top:568.3px">♏︎</i><i class="sx" style="left:155.0px;top:568.3px">♐︎</i><i class="sx" style="left:180.6px;top:568.3px">♐︎</i><i class="sx" style="left:206.3px;top:568.3px">♐︎</i><i class="sx" style="left:231.9px;top:568.3px">♐︎</i><i class="cx" style="left:257.6px;top:568.3px">♑︎</i><i class="cx" style="left:283.3px;top:568.3px">♑︎</i><i class="qx" style="left:308.9px;top:568.3px">♒︎</i><i class="px" style="left:334.6px;top:568.3px">♓︎</i><i class="px" style="left:360.2px;top:568.3px">♓︎</i><i class="ax" style="left:385.9px;top:568.3px">♈︎</i><i class="ax" style="left:411.5px;top:568.3px">♈︎</i><i class="tx" style="left:437.2px;top:568.3px">♉︎</i><i class="gx" style="left:462.9px;top:568.3px">♊︎</i><i class="gx" style="left:488.5px;top:568.3px">♊︎</i><i class="gx" style="left:514.2px;top:568.3px">♊︎</i><i class="nx" style="left:539.8px;top:568.3px">♋︎</i><i class="nx" style="left:565.5px;top:568.3px">♋︎</i><i class="nx" style="left:591.1px;top:568.3px">♋︎</i><i class="nx" style="left:616.8px;top:568.3px">♋︎</i><i class="lx" style="left:642.5px;top:568.3px">♌︎</i><i class="lx" style="left:668.1px;top:568.3px">♌︎</i><i class="lx" style="left:693.8px;top:568.3px">♌︎</i><i class="lx" style="left:719.4px;top:568.3px">♌︎</i><i class="vx" style="left:745.1px;top:568.3px">♍︎</i><i class="vx" style="left:770.7px;top:568.3px">♍︎</i><i class="vx" style="left:796.4px;top:568.3px">♍︎</i><i class="vx" style="left:822.1px;top:568.3px">♍︎</i><i class="vx" style="left:847.7px;top:568.3px">♍︎</i><i class="bx" style="left:873.4px;top:568.3px">♎︎</i><i class="bx" style="left:899.0px;top:568.3px">♎︎</i><i class="bx" style="left:924.7px;top:568.3px">♎︎</i><i class="bx" style="left:950.3px;top:568.3px">♎︎</i><i class="ox" style="left:976.0px;top:568.3px">♏︎</i><i class="ox" style="left:78.0px;top:593.9px">♏︎</i><i class="sx" style="left:103.7px;top:593.9px">♐︎</i><i class="sx" style="left:129.3px;top:593.9px">♐︎</i><i class="sx" style="left:155.0px;top:593.9px">♐︎</i><i class="sx" style="left:180.6px;top:593.9px">♐︎</i><i class="cx" style="left:206.3px;top:593.9px">♑︎</i><i class="cx" style="left:231.9px;top:593.9px">♑︎</i><i class="cx" style="left:257.6px;top:593.9px">♑︎</i><i class="qx" style="left:283.3px;top:593.9px">♒︎</i><i class="px" style="left:308.9px;top:593.9px">♓︎</i><i class="ax" style="left:334.6px;top:593.9px">♈︎</i><i class="ax" style="left:360.2px;top:593.9px">♈︎</i><i class="tx" style="left:385.9px;top:593.9px">♉︎</i><i class="tx" style="left:411.5px;top:593.9px">♉︎</i><i class="gx" style="left:437.2px;top:593.9px">♊︎</i><i class="gx" style="left:462.9px;top:593.9px">♊︎</i><i class="gx" style="left:488.5px;top:593.9px">♊︎</i><i class="nx" style="left:514.2px;top:593.9px">♋︎</i><i class="nx" style="left:539.8px;top:593.9px">♋︎</i><i class="nx" style="left:565.5px;top:593.9px">♋︎</i><i class="lx" style="left:591.1px;top:593.9px">♌︎</i><i class="lx" style="left:616.8px;top:593.9px">♌︎</i><i class="lx" style="left:642.5px;top:593.9px">♌︎</i><i class="lx" style="left:668.1px;top:593.9px">♌︎</i><i class="lx" style="left:693.8px;top:593.9px">♌︎</i><i class="vx" style="left:719.4px;top:593.9px">♍︎</i><i class="vx" style="left:745.1px;top:593.9px">♍︎</i><i class="vx" style="left:770.7px;top:593.9px">♍︎</i><i class="vx" style="left:796.4px;top:593.9px">♍︎</i><i class="bx" style="left:822.1px;top:593.9px">♎︎</i><i class="bx" style="left:847.7px;top:593.9px">♎︎</i><i class="bx" style="left:873.4px;top:593.9px">♎︎</i><i class="bx" style="left:899.0px;top:593.9px">♎︎</i><i class="ox" style="left:924.7px;top:593.9px">♏︎</i><i class="ox" style="left:950.3px;top:593.9px">♏︎</i><i class="ox" style="left:976.0px;top:593.9px">♏︎</i><i style="left:1.5px;top:4.0px;width:23.5px;background:linear-gradient(#10e6f6 11px,#111111 11px)"></i><i style="left:27.5px;top:4.0px;width:47.0px;background:linear-gradient(#10e6f6 11px,#111111 11px)"></i><i class="hr" style="left:27.5px;top:4.0px;width:47px;height:11px;background:none;color:#fff"><b>00.00</b></i><i class="hr" style="left:27.5px;top:15.0px;width:47px;height:12px;background:none;color:#fff"><b style="top:-11px">00.00</b></i><i class="cx" style="left:1.5px;top:29.6px;width:23.5px">♑︎</i><i class="hr" style="left:27.5px;top:29.6px;width:47px;background:#111111;color:#fff;box-shadow:inset 0 0 0 1px #383838"><b>01.00</b></i><i style="left:1.5px;top:55.3px;width:23.5px;background:linear-gradient(#111111 11px,#111111 11px)"></i><i style="left:27.5px;top:55.3px;width:47.0px;background:linear-gradient(#111111 11px,#111111 11px)"></i><i class="hr" style="left:27.5px;top:55.3px;width:47px;height:11px;background:none;color:#fff"><b>02.00</b></i><i class="hr" style="left:27.5px;top:66.3px;width:47px;height:12px;background:none;color:#fff"><b style="top:-11px">02.00</b></i><i style="left:1.5px;top:66.3px;width:23.5px;height:1.5px;background:#eee"></i><i class="qx" style="left:1.5px;top:80.9px;width:23.5px">♒︎</i><i class="hr" style="left:27.5px;top:80.9px;width:47px;background:#111111;color:#fff;box-shadow:inset 0 0 0 1px #383838"><b>03.00</b></i><i style="left:1.5px;top:106.6px;width:23.5px;background:linear-gradient(#111111 11px,#10e6f6 11px)"></i><i style="left:27.5px;top:106.6px;width:47.0px;background:linear-gradient(#111111 11px,#10e6f6 11px)"></i><i class="hr" style="left:27.5px;top:106.6px;width:47px;height:11px;background:none;color:#fff"><b>04.00</b></i><i class="hr" style="left:27.5px;top:117.6px;width:47px;height:12px;background:none;color:#fff"><b style="top:-11px">04.00</b></i><i class="px" style="left:1.5px;top:132.2px;width:23.5px">♓︎</i><i class="hr" style="left:27.5px;top:132.2px;width:47px;background:#10e6f6;color:#fff"><b>05.00</b></i><i style="left:1.5px;top:157.9px;width:23.5px;background:linear-gradient(#10e6f6 11px,#f50505 11px)"></i><i style="left:27.5px;top:157.9px;width:47.0px;background:linear-gradient(#10e6f6 11px,#f50505 11px)"></i><i class="hr" style="left:27.5px;top:157.9px;width:47px;height:11px;background:none;color:#fff"><b>06.00</b></i><i class="hr" style="left:27.5px;top:168.9px;width:47px;height:12px;background:none;color:#fff"><b style="top:-11px">06.00</b></i><i class="ax" style="left:1.5px;top:183.5px;width:23.5px">♈︎</i><i class="hr" style="left:27.5px;top:183.5px;width:47px;background:#f50505;color:#fff"><b>07.00</b></i><i style="left:1.5px;top:209.2px;width:23.5px;background:linear-gradient(#f50505 11px,#a6e408 11px)"></i><i style="left:27.5px;top:209.2px;width:47.0px;background:linear-gradient(#f50505 11px,#a6e408 11px)"></i><i class="hr" style="left:27.5px;top:209.2px;width:47px;height:11px;background:none;color:#fff"><b>08.00</b></i><i class="hr" style="left:27.5px;top:220.2px;width:47px;height:12px;background:none;color:#fff"><b style="top:-11px">08.00</b></i><i class="tx" style="left:1.5px;top:234.8px;width:23.5px">♉︎</i><i class="hr" style="left:27.5px;top:234.8px;width:47px;background:#a6e408;color:#fff"><b>09.00</b></i><i style="left:1.5px;top:260.5px;width:23.5px;background:linear-gradient(#a6e408 11px,#d0d0d0 11px)"></i><i style="left:27.5px;top:260.5px;width:47.0px;background:linear-gradient(#a6e408 11px,#d0d0d0 11px)"></i><i class="hr" style="left:27.5px;top:260.5px;width:47px;height:11px;background:none;color:#fff"><b>10.00</b></i><i class="hr" style="left:27.5px;top:271.5px;width:47px;height:12px;background:none;color:#fff"><b style="top:-11px">10.00</b></i><i class="gx" style="left:1.5px;top:286.1px;width:23.5px">♊︎</i><i class="hr" style="left:27.5px;top:286.1px;width:47px;background:#d0d0d0;color:#fff"><b>11.00</b></i><i style="left:1.5px;top:311.8px;width:23.5px;background:linear-gradient(#d0d0d0 11px,#ffffff 11px)"></i><i style="left:27.5px;top:311.8px;width:47.0px;background:linear-gradient(#d0d0d0 11px,#ffffff 11px)"></i><i class="hr" style="left:27.5px;top:311.8px;width:47px;height:11px;background:none;color:#fff"><b>12.00</b></i><i class="hr" style="left:27.5px;top:322.8px;width:47px;height:12px;background:none;color:#111"><b style="top:-11px">12.00</b></i><i class="nx" style="left:1.5px;top:337.4px;width:19.6px">♋︎</i><i class="hr" style="left:27.5px;top:337.4px;width:47px;background:#ffffff;color:#111"><b>13.00</b></i><i style="left:1.5px;top:363.1px;width:23.5px;background:linear-gradient(#ffffff 11px,#fae108 11px)"></i><i style="left:27.5px;top:363.1px;width:47.0px;background:linear-gradient(#ffffff 11px,#fae108 11px)"></i><i class="hr" style="left:27.5px;top:363.1px;width:47px;height:11px;background:none;color:#111"><b>14.00</b></i><i class="hr" style="left:27.5px;top:374.1px;width:47px;height:12px;background:none;color:#fff"><b style="top:-11px">14.00</b></i><i class="lx" style="left:1.5px;top:388.8px;width:23.5px">♌︎</i><i class="hr" style="left:27.5px;top:388.8px;width:47px;background:#fae108;color:#fff"><b>15.00</b></i><i style="left:1.5px;top:414.4px;width:23.5px;background:linear-gradient(#fae108 11px,#d0d0d0 11px)"></i><i style="left:27.5px;top:414.4px;width:47.0px;background:linear-gradient(#fae108 11px,#d0d0d0 11px)"></i><i class="hr" style="left:27.5px;top:414.4px;width:47px;height:11px;background:none;color:#fff"><b>16.00</b></i><i class="hr" style="left:27.5px;top:425.4px;width:47px;height:12px;background:none;color:#fff"><b style="top:-11px">16.00</b></i><i class="vx" style="left:1.5px;top:440.0px;width:23.5px">♍︎</i><i class="hr" style="left:27.5px;top:440.0px;width:47px;background:#d0d0d0;color:#fff"><b>17.00</b></i><i style="left:1.5px;top:465.7px;width:23.5px;background:linear-gradient(#d0d0d0 11px,#a6e408 11px)"></i><i style="left:27.5px;top:465.7px;width:47.0px;background:linear-gradient(#d0d0d0 11px,#a6e408 11px)"></i><i class="hr" style="left:27.5px;top:465.7px;width:47px;height:11px;background:none;color:#fff"><b>18.00</b></i><i class="hr" style="left:27.5px;top:476.7px;width:47px;height:12px;background:none;color:#fff"><b style="top:-11px">18.00</b></i><i class="bx" style="left:1.5px;top:491.3px;width:23.5px">♎︎</i><i class="hr" style="left:27.5px;top:491.3px;width:47px;background:#a6e408;color:#fff"><b>19.00</b></i><i style="left:1.5px;top:517.0px;width:23.5px;background:linear-gradient(#a6e408 11px,#f50505 11px)"></i><i style="left:27.5px;top:517.0px;width:47.0px;background:linear-gradient(#a6e408 11px,#f50505 11px)"></i><i class="hr" style="left:27.5px;top:517.0px;width:47px;height:11px;background:none;color:#fff"><b>20.00</b></i><i class="hr" style="left:27.5px;top:528.0px;width:47px;height:12px;background:none;color:#fff"><b style="top:-11px">20.00</b></i><i class="ox" style="left:1.5px;top:542.6px;width:23.5px">♏︎</i><i class="hr" style="left:27.5px;top:542.6px;width:47px;background:#f50505;color:#fff"><b>21.00</b></i><i style="left:1.5px;top:568.3px;width:23.5px;background:linear-gradient(#f50505 11px,#10e6f6 11px)"></i><i style="left:27.5px;top:568.3px;width:47.0px;background:linear-gradient(#f50505 11px,#10e6f6 11px)"></i><i class="hr" style="left:27.5px;top:568.3px;width:47px;height:11px;background:none;color:#fff"><b>22.00</b></i><i class="hr" style="left:27.5px;top:579.3px;width:47px;height:12px;background:none;color:#fff"><b style="top:-11px">22.00</b></i><i class="sx" style="left:1.5px;top:593.9px;width:23.5px">♐︎</i><i class="hr" style="left:27.5px;top:593.9px;width:47px;background:#10e6f6;color:#fff"><b>23.00</b></i></div><div class="a" style="left:0;top:1186.4px;width:1000px;height:14px;background:#fff"></div><div class="a" style="left:0;top:1187.6px;width:1000px;height:1px;background:#111"></div><div class="t" id="ft" style="left:41px;top:1191px;font-family:'DejaVu Sans',sans-serif;font-size:8px;line-height:10px;letter-spacing:0.225px;word-spacing:2px">NE PEUT ETRE VENDU – OFFERT GRATUITEMENT PAR WWW.QUI-EST-QUI.EU , LE SITE QUI VOUS DIT TOUT SUR VOUS OU SUR LES AUTRES – COPIE ORIGINALE PLUS VISIBLE SUR LE SITE</div><div class="t" style="left:337px;top:1184.6px;font-size:4.5px;line-height:3px;height:3px;letter-spacing:1.6px;color:#111;background:#f4f4f4;padding:0 1px 0 3px">A. N.ISIS</div></body></html>
